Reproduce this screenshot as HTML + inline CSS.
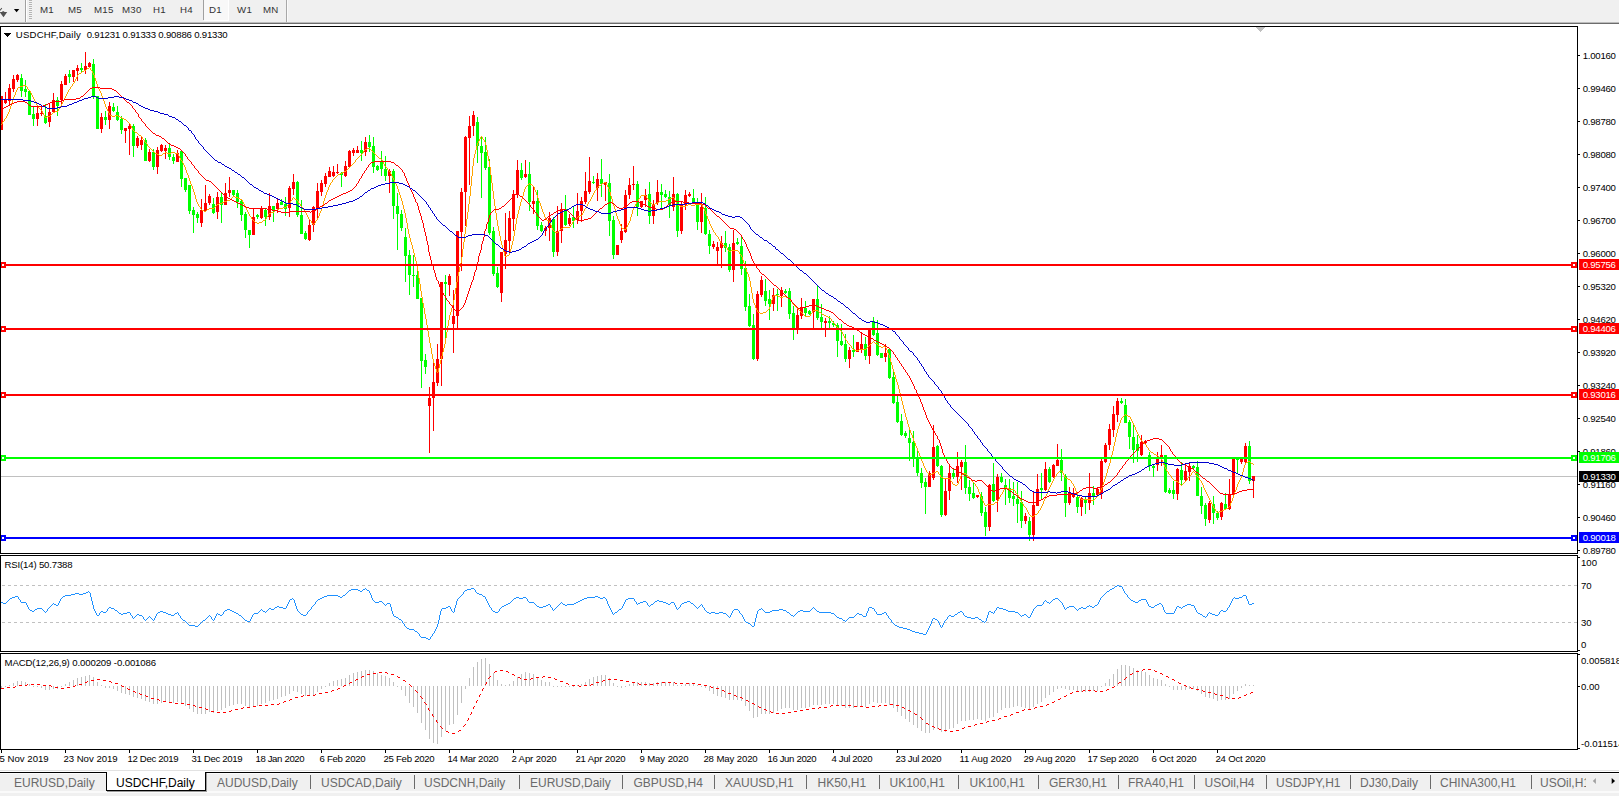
<!DOCTYPE html>
<html><head><meta charset="utf-8"><title>USDCHF,Daily</title>
<style>
html,body{margin:0;padding:0;background:#fff;}
body{width:1619px;height:796px;overflow:hidden;position:relative;font-family:"Liberation Sans",sans-serif;}
#tb{position:absolute;left:0;top:0;width:1619px;height:22px;background:#f0f0f0;}
#tb .b{position:absolute;top:4.2px;font-size:9.7px;letter-spacing:0.25px;color:#333;line-height:12px;white-space:nowrap;}
#tabs{position:absolute;left:0;top:773px;width:1619px;height:23px;background:#f0f0f0;}
#tabs .t{position:absolute;top:2px;font-size:12px;line-height:16px;color:#6a6a6a;white-space:nowrap;}
#tabs .s{position:absolute;top:2px;width:1px;height:14px;background:#6a6a6a;}
svg text{font-family:"Liberation Sans",sans-serif;font-size:9.6px;fill:#000;}
</style></head><body>

<div id="tb">
<svg width="40" height="22" style="position:absolute;left:0;top:0"><path d="M0,12h7.2l-3.7,5.2l-3.5,-4.6z M2.3,11.2h1.9v1.5h-1.9z M0,9.6l1.6,-1.8l0.6,0.8l-2.2,2.4z" fill="#505050"/><path d="M13.9,9h5.4l-2.7,3.3z" fill="#000"/></svg>
<div style="position:absolute;left:25px;top:0;width:1px;height:22px;background:#a0a0a0"></div><div style="position:absolute;left:26px;top:0;width:1px;height:22px;background:#fff"></div>
<div style="position:absolute;left:29px;top:0;width:3px;height:19px;background:repeating-linear-gradient(#b4b4b4 0,#b4b4b4 1px,#f4f4f4 1px,#f4f4f4 2px)"></div>
<div style="position:absolute;left:203px;top:0;width:1px;height:20px;background:#a0a0a0"></div>
<div style="position:absolute;left:204px;top:0;width:24px;height:20px;background:#f8f8f8"></div>
<div style="position:absolute;left:228px;top:0;width:1px;height:21px;background:#fff"></div><div style="position:absolute;left:204px;top:20px;width:25px;height:1px;background:#fff"></div>
<div style="position:absolute;left:286px;top:0;width:1px;height:22px;background:#a8a8a8"></div><div style="position:absolute;left:287px;top:0;width:1px;height:22px;background:#fafafa"></div>
<div class="b" style="left:40px">M1</div>
<div class="b" style="left:68px">M5</div>
<div class="b" style="left:94px">M15</div>
<div class="b" style="left:122px">M30</div>
<div class="b" style="left:153px">H1</div>
<div class="b" style="left:180px">H4</div>
<div class="b" style="left:209px">D1</div>
<div class="b" style="left:237px">W1</div>
<div class="b" style="left:263px">MN</div>
</div>
<div style="position:absolute;left:0;top:22px;width:1619px;height:1px;background:#bcbcbc"></div>
<div style="position:absolute;left:0;top:23px;width:1619px;height:1px;background:#6c6c6c"></div>
<svg width="1619" height="796" viewBox="0 0 1619 796" style="position:absolute;left:0;top:0" shape-rendering="crispEdges">
<defs><clipPath id="cm"><rect x="1" y="27" width="1576" height="526"/></clipPath><clipPath id="cr"><rect x="1" y="556" width="1576" height="95"/></clipPath><clipPath id="cd"><rect x="1" y="654" width="1576" height="95"/></clipPath></defs>
<rect x="1" y="476" width="1576" height="1" fill="#c0c0c0"/>
<g clip-path="url(#cm)">
<path d="M20,78h3v13h-3zM21,74h1v23h-1zM24,89h3v3h-3zM25,80h1v17h-1zM28,91h3v24h-3zM29,91h1v24h-1zM32,114h3v5h-3zM33,107h1v19h-1zM44,116h3v7h-3zM45,104h1v20h-1zM56,100h3v6h-3zM57,97h1v19h-1zM68,74h3v3h-3zM69,70h1v13h-1zM80,68h3v2h-3zM81,63h1v9h-1zM92,64h3v33h-3zM93,59h1v40h-1zM96,96h3v33h-3zM97,96h1v33h-1zM104,117h3v3h-3zM105,111h1v14h-1zM112,107h3v4h-3zM113,103h1v9h-1zM116,112h3v8h-3zM117,106h1v15h-1zM120,119h3v11h-3zM121,116h1v18h-1zM132,126h3v20h-3zM133,124h1v33h-1zM144,140h3v21h-3zM145,138h1v23h-1zM152,152h3v15h-3zM153,149h1v21h-1zM168,148h3v9h-3zM169,144h1v16h-1zM172,157h3v4h-3zM173,154h1v10h-1zM180,151h3v28h-3zM181,150h1v37h-1zM184,178h3v12h-3zM185,178h1v14h-1zM188,185h3v26h-3zM189,185h1v29h-1zM192,210h3v5h-3zM193,207h1v26h-1zM196,214h3v4h-3zM197,212h1v11h-1zM212,204h3v9h-3zM213,198h1v16h-1zM220,197h3v8h-3zM221,193h1v30h-1zM232,190h3v5h-3zM233,190h1v6h-1zM236,193h3v9h-3zM237,190h1v18h-1zM240,201h3v14h-3zM241,199h1v22h-1zM244,214h3v16h-3zM245,212h1v26h-1zM248,230h3v5h-3zM249,230h1v18h-1zM256,215h3v2h-3zM257,214h1v5h-1zM264,210h3v7h-3zM265,208h1v18h-1zM272,206h3v4h-3zM273,206h1v16h-1zM280,202h3v3h-3zM281,199h1v6h-1zM284,204h3v5h-3zM285,197h1v19h-1zM296,182h3v33h-3zM297,181h1v36h-1zM300,215h3v19h-3zM301,200h1v34h-1zM304,233h3v6h-3zM305,231h1v9h-1zM340,173h3v2h-3zM341,172h1v15h-1zM360,150h3v3h-3zM361,141h1v20h-1zM368,142h3v5h-3zM369,135h1v17h-1zM372,146h3v21h-3zM373,137h1v36h-1zM376,166h3v4h-3zM377,165h1v6h-1zM380,161h3v8h-3zM381,151h1v25h-1zM384,169h3v7h-3zM385,156h1v25h-1zM392,171h3v35h-3zM393,169h1v50h-1zM396,206h3v8h-3zM397,193h1v57h-1zM400,214h3v14h-3zM401,210h1v21h-1zM404,237h3v19h-3zM405,228h1v54h-1zM408,255h3v20h-3zM409,250h1v45h-1zM412,275h3v1h-3zM413,255h1v32h-1zM416,275h3v24h-3zM417,270h1v29h-1zM420,298h3v63h-3zM421,298h1v90h-1zM424,360h3v7h-3zM425,354h1v20h-1zM444,282h3v2h-3zM445,275h1v63h-1zM476,122h3v24h-3zM477,117h1v46h-1zM480,146h3v7h-3zM481,136h1v62h-1zM484,152h3v16h-3zM485,137h1v33h-1zM488,167h3v66h-3zM489,159h1v76h-1zM492,231h3v43h-3zM493,227h1v49h-1zM496,273h3v14h-3zM497,267h1v21h-1zM520,170h3v8h-3zM521,163h1v17h-1zM528,174h3v28h-3zM529,162h1v49h-1zM536,201h3v25h-3zM537,190h1v40h-1zM540,225h3v6h-3zM541,222h1v10h-1zM552,219h3v33h-3zM553,217h1v40h-1zM564,209h3v16h-3zM565,195h1v31h-1zM572,217h3v4h-3zM573,206h1v22h-1zM592,182h3v1h-3zM593,176h1v8h-1zM600,179h3v5h-3zM601,159h1v38h-1zM608,183h3v38h-3zM609,174h1v62h-1zM612,220h3v35h-3zM613,216h1v43h-1zM636,184h3v23h-3zM637,181h1v35h-1zM648,194h3v22h-3zM649,182h1v42h-1zM660,192h3v3h-3zM661,184h1v25h-1zM664,194h3v3h-3zM665,190h1v8h-1zM668,197h3v8h-3zM669,191h1v27h-1zM676,194h3v37h-3zM677,193h1v44h-1zM692,198h3v5h-3zM693,189h1v15h-1zM696,202h3v20h-3zM697,198h1v32h-1zM704,208h3v26h-3zM705,197h1v38h-1zM708,234h3v12h-3zM709,230h1v24h-1zM724,243h3v5h-3zM725,231h1v21h-1zM728,247h3v23h-3zM729,244h1v28h-1zM736,242h3v2h-3zM737,238h1v7h-1zM740,246h3v23h-3zM741,236h1v39h-1zM744,268h3v39h-3zM745,261h1v50h-1zM748,306h3v20h-3zM749,294h1v33h-1zM752,325h3v34h-3zM753,314h1v46h-1zM764,291h3v10h-3zM765,279h1v27h-1zM768,299h3v5h-3zM769,290h1v30h-1zM776,294h3v1h-3zM777,289h1v22h-1zM784,291h3v2h-3zM785,289h1v5h-1zM788,291h3v23h-3zM789,288h1v31h-1zM792,313h3v16h-3zM793,306h1v34h-1zM804,308h3v5h-3zM805,301h1v15h-1zM808,311h3v3h-3zM809,310h1v5h-1zM816,299h3v19h-3zM817,286h1v34h-1zM820,317h3v5h-3zM821,304h1v24h-1zM828,321h3v2h-3zM829,316h1v12h-1zM832,323h3v2h-3zM833,321h1v6h-1zM836,325h3v16h-3zM837,323h1v34h-1zM840,341h3v4h-3zM841,324h1v22h-1zM844,344h3v15h-3zM845,334h1v28h-1zM852,350h3v2h-3zM853,335h1v22h-1zM864,344h3v12h-3zM865,337h1v23h-1zM872,321h3v14h-3zM873,317h1v19h-1zM876,333h3v22h-3zM877,320h1v36h-1zM880,353h3v5h-3zM881,353h1v5h-1zM888,349h3v29h-3zM889,348h1v31h-1zM892,377h3v26h-3zM893,372h1v32h-1zM896,402h3v20h-3zM897,396h1v27h-1zM900,421h3v14h-3zM901,414h1v22h-1zM904,433h3v3h-3zM905,431h1v7h-1zM908,438h3v5h-3zM909,430h1v31h-1zM912,442h3v17h-3zM913,431h1v36h-1zM916,458h3v15h-3zM917,448h1v28h-1zM920,473h3v10h-3zM921,468h1v20h-1zM924,482h3v5h-3zM925,478h1v36h-1zM936,446h3v20h-3zM937,445h1v22h-1zM940,466h3v49h-3zM941,465h1v52h-1zM952,473h3v4h-3zM953,468h1v11h-1zM964,462h3v26h-3zM965,445h1v49h-1zM968,487h3v7h-3zM969,480h1v21h-1zM972,493h3v5h-3zM973,482h1v17h-1zM980,496h3v17h-3zM981,492h1v24h-1zM984,512h3v15h-3zM985,507h1v29h-1zM992,484h3v17h-3zM993,463h1v39h-1zM1000,477h3v5h-3zM1001,473h1v10h-1zM1004,485h3v3h-3zM1005,479h1v26h-1zM1008,488h3v10h-3zM1009,479h1v24h-1zM1012,496h3v3h-3zM1013,482h1v24h-1zM1016,499h3v5h-3zM1017,482h1v41h-1zM1020,502h3v19h-3zM1021,491h1v37h-1zM1028,521h3v14h-3zM1029,517h1v24h-1zM1040,488h3v2h-3zM1041,473h1v26h-1zM1048,469h3v13h-3zM1049,467h1v16h-1zM1060,460h3v13h-3zM1061,449h1v32h-1zM1064,476h3v27h-3zM1065,474h1v43h-1zM1076,497h3v10h-3zM1077,493h1v20h-1zM1084,500h3v3h-3zM1085,496h1v18h-1zM1092,493h3v4h-3zM1093,486h1v19h-1zM1120,401h3v2h-3zM1121,398h1v6h-1zM1124,405h3v18h-3zM1125,399h1v24h-1zM1128,422h3v15h-3zM1129,420h1v29h-1zM1132,437h3v13h-3zM1133,424h1v39h-1zM1136,444h3v7h-3zM1137,435h1v27h-1zM1148,455h3v11h-3zM1149,452h1v19h-1zM1152,466h3v2h-3zM1153,464h1v13h-1zM1164,455h3v37h-3zM1165,455h1v38h-1zM1168,490h3v3h-3zM1169,488h1v6h-1zM1172,490h3v4h-3zM1173,481h1v18h-1zM1180,470h3v10h-3zM1181,462h1v24h-1zM1192,466h3v2h-3zM1193,465h1v4h-1zM1196,467h3v29h-3zM1197,461h1v35h-1zM1200,496h3v10h-3zM1201,487h1v27h-1zM1204,505h3v14h-3zM1205,503h1v23h-1zM1212,504h3v9h-3zM1213,496h1v28h-1zM1216,513h3v5h-3zM1217,511h1v9h-1zM1224,504h3v5h-3zM1225,493h1v17h-1zM1236,458h3v2h-3zM1237,458h1v15h-1zM1248,446h3v35h-3zM1249,441h1v43h-1z" fill="#00ff00"/>
<path d="M0,96h3v34h-3zM1,96h1v34h-1zM4,99h3v4h-3zM5,92h1v12h-1zM8,88h3v13h-3zM9,84h1v21h-1zM12,79h3v10h-3zM13,75h1v17h-1zM16,75h3v5h-3zM17,74h1v8h-1zM36,113h3v6h-3zM37,106h1v20h-1zM40,113h3v1h-3zM41,105h1v11h-1zM48,112h3v10h-3zM49,103h1v24h-1zM52,100h3v12h-3zM53,93h1v20h-1zM60,84h3v16h-3zM61,81h1v25h-1zM64,76h3v9h-3zM65,74h1v11h-1zM72,70h3v7h-3zM73,70h1v12h-1zM76,68h3v3h-3zM77,65h1v16h-1zM84,66h3v4h-3zM85,52h1v22h-1zM88,63h3v4h-3zM89,62h1v5h-1zM100,117h3v12h-3zM101,113h1v20h-1zM108,106h3v14h-3zM109,102h1v27h-1zM124,128h3v3h-3zM125,128h1v15h-1zM128,126h3v3h-3zM129,123h1v32h-1zM136,138h3v8h-3zM137,136h1v12h-1zM140,140h3v5h-3zM141,136h1v14h-1zM148,152h3v9h-3zM149,149h1v13h-1zM156,150h3v17h-3zM157,147h1v27h-1zM160,145h3v6h-3zM161,144h1v8h-1zM164,148h3v3h-3zM165,145h1v14h-1zM176,153h3v9h-3zM177,150h1v12h-1zM200,210h3v13h-3zM201,199h1v28h-1zM204,203h3v8h-3zM205,185h1v27h-1zM208,196h3v7h-3zM209,194h1v11h-1zM216,197h3v15h-3zM217,192h1v27h-1zM224,193h3v12h-3zM225,183h1v22h-1zM228,190h3v3h-3zM229,177h1v20h-1zM252,217h3v18h-3zM253,208h1v27h-1zM260,208h3v10h-3zM261,206h1v13h-1zM268,206h3v11h-3zM269,193h1v27h-1zM276,203h3v6h-3zM277,199h1v14h-1zM288,188h3v20h-3zM289,186h1v31h-1zM292,182h3v7h-3zM293,174h1v21h-1zM308,225h3v15h-3zM309,220h1v21h-1zM312,207h3v18h-3zM313,206h1v26h-1zM316,191h3v17h-3zM317,183h1v36h-1zM320,183h3v9h-3zM321,180h1v16h-1zM324,176h3v8h-3zM325,173h1v14h-1zM328,171h3v6h-3zM329,167h1v10h-1zM332,172h3v4h-3zM333,166h1v11h-1zM336,172h3v1h-3zM337,164h1v10h-1zM344,166h3v10h-3zM345,161h1v16h-1zM348,151h3v16h-3zM349,150h1v18h-1zM352,150h3v3h-3zM353,148h1v8h-1zM356,150h3v3h-3zM357,146h1v7h-1zM364,142h3v10h-3zM365,137h1v19h-1zM388,171h3v5h-3zM389,169h1v24h-1zM428,398h3v8h-3zM429,387h1v66h-1zM432,382h3v16h-3zM433,362h1v69h-1zM436,359h3v24h-3zM437,344h1v42h-1zM440,282h3v77h-3zM441,282h1v104h-1zM448,276h3v9h-3zM449,274h1v22h-1zM452,316h3v8h-3zM453,290h1v63h-1zM456,231h3v85h-3zM457,231h1v97h-1zM460,192h3v40h-3zM461,188h1v83h-1zM464,137h3v55h-3zM465,136h1v90h-1zM468,126h3v12h-3zM469,116h1v69h-1zM472,115h3v11h-3zM473,111h1v25h-1zM500,252h3v41h-3zM501,252h1v50h-1zM504,240h3v14h-3zM505,213h1v56h-1zM508,218h3v23h-3zM509,211h1v42h-1zM512,194h3v25h-3zM513,190h1v41h-1zM516,170h3v24h-3zM517,160h1v38h-1zM524,174h3v3h-3zM525,160h1v18h-1zM532,201h3v3h-3zM533,187h1v27h-1zM544,228h3v3h-3zM545,226h1v10h-1zM548,218h3v10h-3zM549,212h1v29h-1zM556,231h3v21h-3zM557,206h1v50h-1zM560,209h3v22h-3zM561,203h1v40h-1zM568,218h3v6h-3zM569,214h1v12h-1zM576,211h3v9h-3zM577,193h1v31h-1zM580,201h3v10h-3zM581,197h1v25h-1zM584,191h3v11h-3zM585,172h1v32h-1zM588,181h3v11h-3zM589,157h1v37h-1zM596,179h3v9h-3zM597,173h1v28h-1zM604,182h3v3h-3zM605,182h1v19h-1zM616,245h3v10h-3zM617,245h1v10h-1zM620,231h3v9h-3zM621,224h1v19h-1zM624,195h3v37h-3zM625,190h1v43h-1zM628,185h3v10h-3zM629,178h1v21h-1zM632,184h3v1h-3zM633,166h1v24h-1zM640,201h3v6h-3zM641,201h1v7h-1zM644,195h3v5h-3zM645,189h1v18h-1zM652,205h3v11h-3zM653,200h1v24h-1zM656,192h3v11h-3zM657,180h1v25h-1zM672,194h3v13h-3zM673,177h1v34h-1zM680,204h3v27h-3zM681,201h1v33h-1zM684,195h3v10h-3zM685,190h1v20h-1zM688,194h3v2h-3zM689,192h1v5h-1zM700,207h3v15h-3zM701,193h1v40h-1zM712,244h3v3h-3zM713,241h1v8h-1zM716,247h3v4h-3zM717,242h1v23h-1zM720,243h3v5h-3zM721,236h1v32h-1zM732,243h3v27h-3zM733,230h1v52h-1zM756,294h3v65h-3zM757,291h1v70h-1zM760,280h3v15h-3zM761,276h1v21h-1zM772,295h3v9h-3zM773,288h1v23h-1zM780,290h3v6h-3zM781,287h1v20h-1zM796,315h3v15h-3zM797,307h1v27h-1zM800,307h3v9h-3zM801,298h1v21h-1zM812,299h3v13h-3zM813,299h1v29h-1zM824,321h3v2h-3zM825,318h1v19h-1zM848,350h3v9h-3zM849,347h1v21h-1zM856,342h3v10h-3zM857,342h1v10h-1zM860,344h3v5h-3zM861,333h1v20h-1zM868,329h3v27h-3zM869,329h1v35h-1zM884,353h3v4h-3zM885,344h1v18h-1zM928,473h3v14h-3zM929,471h1v16h-1zM932,447h3v31h-3zM933,425h1v55h-1zM944,491h3v24h-3zM945,479h1v37h-1zM948,473h3v18h-3zM949,466h1v34h-1zM956,466h3v11h-3zM957,452h1v31h-1zM960,462h3v5h-3zM961,460h1v30h-1zM976,495h3v2h-3zM977,495h1v3h-1zM988,485h3v42h-3zM989,484h1v47h-1zM996,477h3v23h-3zM997,474h1v38h-1zM1024,516h3v5h-3zM1025,513h1v11h-1zM1032,505h3v30h-3zM1033,491h1v50h-1zM1036,489h3v17h-3zM1037,474h1v32h-1zM1044,469h3v21h-3zM1045,462h1v29h-1zM1052,465h3v12h-3zM1053,464h1v14h-1zM1056,460h3v6h-3zM1057,444h1v22h-1zM1068,492h3v11h-3zM1069,487h1v18h-1zM1072,493h3v4h-3zM1073,488h1v10h-1zM1080,498h3v9h-3zM1081,497h1v19h-1zM1088,493h3v10h-3zM1089,473h1v37h-1zM1096,489h3v6h-3zM1097,488h1v8h-1zM1100,461h3v33h-3zM1101,459h1v40h-1zM1104,445h3v17h-3zM1105,443h1v20h-1zM1108,429h3v16h-3zM1109,424h1v26h-1zM1112,414h3v16h-3zM1113,406h1v31h-1zM1116,401h3v14h-3zM1117,398h1v24h-1zM1140,442h3v13h-3zM1141,435h1v21h-1zM1144,441h3v2h-3zM1145,440h1v4h-1zM1156,459h3v6h-3zM1157,452h1v19h-1zM1160,455h3v4h-3zM1161,445h1v21h-1zM1176,469h3v25h-3zM1177,468h1v32h-1zM1184,471h3v9h-3zM1185,464h1v17h-1zM1188,466h3v6h-3zM1189,462h1v19h-1zM1208,503h3v17h-3zM1209,501h1v22h-1zM1220,503h3v14h-3zM1221,502h1v18h-1zM1228,494h3v15h-3zM1229,479h1v31h-1zM1232,459h3v35h-3zM1233,459h1v37h-1zM1240,458h3v4h-3zM1241,458h1v6h-1zM1244,446h3v16h-3zM1245,443h1v20h-1zM1252,476h3v5h-3zM1253,476h1v22h-1z" fill="#ff0000"/>
<path d="M2,122h1v2h-1zM4,119h1v2h-1zM6,116h1v2h-1zM7,114h1v2h-1zM8,112h1v2h-1zM9,109h1v3h-1zM10,106h1v3h-1zM11,103h1v3h-1zM12,100h1v3h-1zM13,97h1v3h-1zM14,95h1v2h-1zM15,92h1v3h-1zM16,90h1v2h-1zM17,88h1v2h-1zM27,87h1v2h-1zM30,91h1v2h-1zM31,93h1v2h-1zM32,95h1v2h-1zM33,97h1v2h-1zM34,99h1v2h-1zM35,101h1v2h-1zM36,103h1v2h-1zM37,105h1v2h-1zM42,111h1v2h-1zM43,113h1v2h-1zM44,115h1v2h-1zM58,109h1v2h-1zM60,106h1v2h-1zM61,104h1v2h-1zM62,102h1v2h-1zM63,100h1v2h-1zM64,98h1v2h-1zM65,96h1v2h-1zM66,94h1v2h-1zM67,92h1v2h-1zM68,90h1v2h-1zM70,87h1v2h-1zM72,84h1v2h-1zM74,81h1v2h-1zM75,79h1v2h-1zM76,77h1v2h-1zM77,75h1v2h-1zM90,68h1v2h-1zM92,71h1v2h-1zM93,73h1v2h-1zM94,75h1v3h-1zM95,78h1v3h-1zM96,81h1v3h-1zM97,84h1v3h-1zM98,87h1v2h-1zM99,89h1v2h-1zM100,91h1v2h-1zM101,93h1v3h-1zM102,96h1v3h-1zM103,99h1v2h-1zM104,101h1v3h-1zM105,104h1v3h-1zM106,107h1v2h-1zM107,109h1v2h-1zM108,111h1v2h-1zM109,113h1v2h-1zM130,124h1v2h-1zM131,126h1v2h-1zM132,128h1v2h-1zM142,137h1v2h-1zM144,140h1v2h-1zM147,144h1v2h-1zM178,154h1v2h-1zM179,156h1v2h-1zM180,158h1v2h-1zM182,161h1v2h-1zM183,163h1v2h-1zM184,165h1v2h-1zM185,167h1v3h-1zM186,170h1v3h-1zM187,173h1v2h-1zM188,175h1v3h-1zM189,178h1v3h-1zM190,181h1v3h-1zM191,184h1v2h-1zM192,186h1v3h-1zM193,189h1v3h-1zM194,192h1v3h-1zM195,195h1v4h-1zM196,199h1v3h-1zM197,202h1v2h-1zM198,204h1v2h-1zM200,207h1v2h-1zM242,200h1v2h-1zM243,202h1v2h-1zM244,204h1v2h-1zM245,206h1v2h-1zM246,208h1v2h-1zM247,210h1v2h-1zM248,212h1v2h-1zM249,214h1v2h-1zM251,217h1v2h-1zM266,217h1v2h-1zM268,214h1v2h-1zM290,201h1v2h-1zM292,198h1v2h-1zM298,201h1v2h-1zM300,204h1v2h-1zM302,207h1v2h-1zM304,210h1v2h-1zM306,213h1v2h-1zM307,215h1v2h-1zM308,217h1v2h-1zM311,221h1v2h-1zM315,221h1v2h-1zM317,218h1v2h-1zM318,216h1v2h-1zM319,213h1v3h-1zM320,211h1v2h-1zM321,208h1v3h-1zM322,205h1v3h-1zM323,201h1v4h-1zM324,198h1v3h-1zM325,195h1v3h-1zM326,192h1v3h-1zM327,190h1v2h-1zM328,187h1v3h-1zM329,185h1v2h-1zM330,183h1v2h-1zM332,180h1v2h-1zM355,160h1v2h-1zM363,151h1v2h-1zM382,160h1v2h-1zM383,162h1v2h-1zM384,164h1v2h-1zM387,168h1v2h-1zM390,172h1v2h-1zM391,174h1v2h-1zM392,176h1v2h-1zM393,178h1v2h-1zM394,180h1v2h-1zM395,182h1v2h-1zM396,184h1v2h-1zM397,186h1v3h-1zM398,189h1v3h-1zM399,192h1v3h-1zM400,195h1v3h-1zM401,198h1v3h-1zM402,201h1v4h-1zM403,205h1v4h-1zM404,209h1v4h-1zM405,213h1v5h-1zM406,218h1v5h-1zM407,223h1v6h-1zM408,229h1v5h-1zM409,234h1v4h-1zM410,238h1v4h-1zM411,242h1v3h-1zM412,245h1v4h-1zM413,249h1v4h-1zM414,253h1v4h-1zM415,257h1v4h-1zM416,261h1v4h-1zM417,265h1v6h-1zM418,271h1v7h-1zM419,278h1v6h-1zM420,284h1v7h-1zM421,291h1v6h-1zM422,297h1v6h-1zM423,303h1v5h-1zM424,308h1v6h-1zM425,314h1v5h-1zM426,319h1v6h-1zM427,325h1v6h-1zM428,331h1v6h-1zM429,337h1v6h-1zM430,343h1v5h-1zM431,348h1v6h-1zM432,354h1v5h-1zM433,359h1v4h-1zM434,363h1v3h-1zM435,366h1v3h-1zM436,369h1v3h-1zM438,368h1v4h-1zM439,364h1v4h-1zM440,360h1v4h-1zM441,356h1v4h-1zM442,352h1v4h-1zM443,348h1v4h-1zM444,344h1v4h-1zM445,338h1v6h-1zM446,332h1v6h-1zM447,326h1v6h-1zM448,320h1v6h-1zM449,315h1v5h-1zM450,312h1v3h-1zM451,308h1v4h-1zM452,305h1v3h-1zM453,300h1v5h-1zM454,294h1v6h-1zM455,288h1v6h-1zM456,282h1v6h-1zM457,276h1v6h-1zM458,272h1v4h-1zM459,267h1v5h-1zM460,263h1v4h-1zM461,257h1v6h-1zM462,249h1v8h-1zM463,242h1v7h-1zM464,234h1v8h-1zM465,227h1v7h-1zM466,219h1v8h-1zM467,212h1v7h-1zM468,204h1v8h-1zM469,196h1v8h-1zM470,186h1v10h-1zM471,176h1v10h-1zM472,166h1v10h-1zM473,158h1v8h-1zM474,154h1v4h-1zM475,150h1v4h-1zM476,146h1v4h-1zM477,143h1v3h-1zM478,141h1v2h-1zM479,139h1v2h-1zM480,137h1v2h-1zM482,137h1v2h-1zM484,140h1v2h-1zM485,142h1v3h-1zM486,145h1v5h-1zM487,150h1v6h-1zM488,156h1v5h-1zM489,161h1v6h-1zM490,167h1v8h-1zM491,175h1v8h-1zM492,183h1v8h-1zM493,191h1v8h-1zM494,199h1v7h-1zM495,206h1v7h-1zM496,213h1v7h-1zM497,220h1v6h-1zM498,226h1v5h-1zM499,231h1v5h-1zM500,236h1v5h-1zM501,241h1v4h-1zM502,245h1v4h-1zM503,249h1v3h-1zM504,252h1v4h-1zM509,253h1v2h-1zM510,249h1v4h-1zM511,245h1v4h-1zM512,241h1v4h-1zM513,236h1v5h-1zM514,230h1v6h-1zM515,224h1v6h-1zM516,218h1v6h-1zM517,214h1v4h-1zM518,210h1v4h-1zM519,206h1v4h-1zM520,202h1v4h-1zM521,199h1v3h-1zM522,196h1v3h-1zM523,192h1v4h-1zM524,189h1v3h-1zM525,187h1v2h-1zM534,187h1v3h-1zM535,190h1v2h-1zM536,192h1v3h-1zM537,195h1v3h-1zM538,198h1v3h-1zM539,201h1v2h-1zM540,203h1v3h-1zM541,206h1v3h-1zM542,209h1v3h-1zM543,212h1v2h-1zM544,214h1v3h-1zM545,217h1v2h-1zM549,221h1v2h-1zM550,223h1v2h-1zM551,225h1v3h-1zM552,228h1v2h-1zM570,225h1v2h-1zM572,222h1v2h-1zM582,213h1v2h-1zM583,211h1v2h-1zM584,209h1v2h-1zM586,206h1v2h-1zM587,204h1v2h-1zM588,202h1v2h-1zM590,199h1v2h-1zM591,197h1v2h-1zM592,195h1v2h-1zM593,193h1v2h-1zM594,191h1v2h-1zM596,188h1v2h-1zM606,183h1v2h-1zM607,185h1v2h-1zM608,187h1v2h-1zM609,189h1v3h-1zM610,192h1v4h-1zM611,196h1v3h-1zM612,199h1v4h-1zM613,203h1v3h-1zM614,206h1v3h-1zM615,209h1v4h-1zM616,213h1v3h-1zM617,216h1v3h-1zM618,219h1v2h-1zM619,221h1v3h-1zM620,224h1v2h-1zM621,226h1v2h-1zM626,227h1v2h-1zM627,225h1v2h-1zM628,223h1v2h-1zM629,221h1v2h-1zM630,217h1v4h-1zM631,214h1v3h-1zM632,210h1v4h-1zM633,208h1v2h-1zM634,206h1v2h-1zM635,204h1v2h-1zM636,202h1v2h-1zM638,199h1v2h-1zM640,196h1v2h-1zM646,196h1v2h-1zM648,199h1v2h-1zM674,198h1v2h-1zM675,200h1v2h-1zM676,202h1v2h-1zM702,205h1v2h-1zM703,207h1v2h-1zM704,209h1v2h-1zM705,211h1v3h-1zM706,214h1v2h-1zM707,216h1v3h-1zM708,219h1v2h-1zM709,221h1v3h-1zM710,224h1v2h-1zM711,226h1v2h-1zM712,228h1v2h-1zM713,230h1v2h-1zM715,233h1v2h-1zM718,237h1v2h-1zM719,239h1v2h-1zM720,241h1v2h-1zM727,248h1v2h-1zM739,252h1v2h-1zM741,255h1v2h-1zM742,257h1v3h-1zM743,260h1v3h-1zM744,263h1v3h-1zM745,266h1v3h-1zM746,269h1v3h-1zM747,272h1v2h-1zM748,274h1v3h-1zM749,277h1v4h-1zM750,281h1v6h-1zM751,287h1v6h-1zM752,293h1v6h-1zM753,299h1v4h-1zM754,303h1v2h-1zM755,305h1v3h-1zM756,308h1v2h-1zM757,310h1v2h-1zM769,307h1v2h-1zM770,304h1v3h-1zM771,300h1v4h-1zM772,297h1v3h-1zM790,299h1v2h-1zM792,302h1v2h-1zM810,314h1v2h-1zM812,311h1v2h-1zM831,319h1v2h-1zM835,324h1v2h-1zM842,332h1v2h-1zM843,334h1v2h-1zM844,336h1v2h-1zM845,338h1v2h-1zM847,341h1v2h-1zM851,346h1v2h-1zM886,348h1v2h-1zM887,350h1v3h-1zM888,353h1v2h-1zM889,355h1v3h-1zM890,358h1v4h-1zM891,362h1v3h-1zM892,365h1v4h-1zM893,369h1v3h-1zM894,372h1v3h-1zM895,375h1v4h-1zM896,379h1v3h-1zM897,382h1v3h-1zM898,385h1v4h-1zM899,389h1v4h-1zM900,393h1v4h-1zM901,397h1v4h-1zM902,401h1v4h-1zM903,405h1v4h-1zM904,409h1v4h-1zM905,413h1v4h-1zM906,417h1v3h-1zM907,420h1v4h-1zM908,424h1v3h-1zM909,427h1v3h-1zM910,430h1v3h-1zM911,433h1v2h-1zM912,435h1v3h-1zM913,438h1v3h-1zM914,441h1v2h-1zM915,443h1v3h-1zM916,446h1v2h-1zM917,448h1v3h-1zM918,451h1v2h-1zM919,453h1v3h-1zM920,456h1v2h-1zM921,458h1v3h-1zM922,461h1v2h-1zM923,463h1v3h-1zM924,466h1v2h-1zM925,468h1v2h-1zM926,470h1v2h-1zM928,473h1v2h-1zM938,472h1v2h-1zM940,475h1v2h-1zM950,479h1v2h-1zM952,482h1v2h-1zM958,481h1v3h-1zM959,479h1v2h-1zM960,476h1v3h-1zM971,479h1v2h-1zM975,484h1v2h-1zM977,487h1v2h-1zM978,489h1v3h-1zM979,492h1v2h-1zM980,494h1v3h-1zM981,497h1v2h-1zM982,499h1v2h-1zM983,501h1v2h-1zM984,503h1v2h-1zM998,499h1v2h-1zM999,497h1v2h-1zM1000,495h1v2h-1zM1002,492h1v2h-1zM1003,490h1v2h-1zM1004,488h1v2h-1zM1015,491h1v2h-1zM1018,495h1v2h-1zM1019,497h1v2h-1zM1020,499h1v2h-1zM1021,501h1v2h-1zM1023,504h1v2h-1zM1026,508h1v2h-1zM1027,510h1v2h-1zM1028,512h1v2h-1zM1038,511h1v2h-1zM1040,508h1v2h-1zM1041,506h1v2h-1zM1042,504h1v2h-1zM1043,501h1v3h-1zM1044,499h1v2h-1zM1045,496h1v3h-1zM1046,494h1v2h-1zM1047,491h1v3h-1zM1048,489h1v2h-1zM1049,487h1v2h-1zM1050,485h1v2h-1zM1051,483h1v2h-1zM1052,481h1v2h-1zM1053,479h1v2h-1zM1054,477h1v2h-1zM1056,474h1v2h-1zM1062,471h1v2h-1zM1063,473h1v2h-1zM1064,475h1v2h-1zM1071,481h1v2h-1zM1073,484h1v2h-1zM1074,486h1v2h-1zM1075,488h1v3h-1zM1076,491h1v2h-1zM1077,493h1v2h-1zM1079,496h1v2h-1zM1098,494h1v2h-1zM1099,492h1v2h-1zM1100,490h1v2h-1zM1101,488h1v2h-1zM1102,485h1v3h-1zM1103,482h1v3h-1zM1104,479h1v3h-1zM1105,476h1v3h-1zM1106,473h1v3h-1zM1107,469h1v4h-1zM1108,466h1v3h-1zM1109,463h1v3h-1zM1110,459h1v4h-1zM1111,455h1v4h-1zM1112,451h1v4h-1zM1113,446h1v5h-1zM1114,442h1v4h-1zM1115,437h1v5h-1zM1116,433h1v4h-1zM1117,429h1v4h-1zM1118,426h1v3h-1zM1119,423h1v3h-1zM1120,420h1v3h-1zM1121,418h1v2h-1zM1130,417h1v2h-1zM1131,419h1v2h-1zM1132,421h1v2h-1zM1133,423h1v2h-1zM1134,425h1v2h-1zM1135,427h1v3h-1zM1136,430h1v2h-1zM1137,432h1v2h-1zM1138,434h1v2h-1zM1139,436h1v2h-1zM1140,438h1v2h-1zM1146,445h1v2h-1zM1148,448h1v2h-1zM1161,458h1v2h-1zM1162,460h1v2h-1zM1163,462h1v3h-1zM1164,465h1v2h-1zM1165,467h1v2h-1zM1166,469h1v2h-1zM1168,472h1v2h-1zM1171,476h1v2h-1zM1187,478h1v2h-1zM1191,473h1v2h-1zM1195,473h1v2h-1zM1199,478h1v2h-1zM1201,481h1v2h-1zM1202,483h1v2h-1zM1203,485h1v3h-1zM1204,488h1v2h-1zM1205,490h1v2h-1zM1206,492h1v2h-1zM1207,494h1v2h-1zM1208,496h1v2h-1zM1209,498h1v2h-1zM1210,500h1v2h-1zM1211,502h1v2h-1zM1212,504h1v2h-1zM1213,506h1v2h-1zM1215,509h1v2h-1zM1230,503h1v3h-1zM1231,501h1v2h-1zM1232,498h1v3h-1zM1233,495h1v3h-1zM1234,492h1v3h-1zM1235,490h1v2h-1zM1236,487h1v3h-1zM1237,484h1v3h-1zM1238,482h1v2h-1zM1239,480h1v2h-1zM1240,478h1v2h-1zM1241,475h1v3h-1zM1242,472h1v3h-1zM1243,468h1v4h-1zM1244,465h1v3h-1zM1245,463h1v2h-1zM89,67h1v1h-1zM87,68h2v1h-2zM86,69h1v1h-1zM84,70h2v1h-2zM91,70h1v1h-1zM82,71h2v1h-2zM81,72h1v1h-1zM79,73h2v1h-2zM78,74h1v1h-1zM73,83h1v1h-1zM23,85h3v1h-3zM20,86h3v1h-3zM26,86h1v1h-1zM71,86h1v1h-1zM18,87h2v1h-2zM28,89h1v1h-1zM69,89h1v1h-1zM29,90h1v1h-1zM38,107h1v1h-1zM39,108h1v1h-1zM59,108h1v1h-1zM40,109h1v1h-1zM41,110h1v1h-1zM55,111h3v1h-3zM53,112h2v1h-2zM52,113h1v1h-1zM51,114h1v1h-1zM50,115h1v1h-1zM110,115h2v1h-2zM115,115h3v1h-3zM47,116h3v1h-3zM112,116h3v1h-3zM118,116h2v1h-2zM45,117h2v1h-2zM120,117h2v1h-2zM5,118h1v1h-1zM122,118h2v1h-2zM124,119h2v1h-2zM126,120h1v1h-1zM3,121h1v1h-1zM127,121h1v1h-1zM128,122h1v1h-1zM129,123h1v1h-1zM1,124h1v1h-1zM133,130h1v1h-1zM134,131h1v1h-1zM135,132h2v1h-2zM137,133h1v1h-1zM138,134h1v1h-1zM139,135h2v1h-2zM141,136h1v1h-1zM481,136h1v1h-1zM143,139h1v1h-1zM483,139h1v1h-1zM145,142h1v1h-1zM146,143h1v1h-1zM148,146h1v1h-1zM149,147h1v1h-1zM150,148h1v1h-1zM367,148h3v1h-3zM151,149h1v1h-1zM365,149h2v1h-2zM370,149h1v1h-1zM152,150h1v1h-1zM364,150h1v1h-1zM371,150h1v1h-1zM153,151h1v1h-1zM372,151h1v1h-1zM154,152h1v1h-1zM165,152h2v1h-2zM171,152h4v1h-4zM373,152h1v1h-1zM155,153h2v1h-2zM163,153h2v1h-2zM167,153h4v1h-4zM175,153h3v1h-3zM362,153h1v1h-1zM374,153h1v1h-1zM157,154h2v1h-2zM162,154h1v1h-1zM361,154h1v1h-1zM375,154h1v1h-1zM159,155h3v1h-3zM360,155h1v1h-1zM376,155h1v1h-1zM359,156h1v1h-1zM377,156h1v1h-1zM358,157h1v1h-1zM378,157h1v1h-1zM357,158h1v1h-1zM379,158h2v1h-2zM356,159h1v1h-1zM381,159h1v1h-1zM181,160h1v1h-1zM354,162h1v1h-1zM353,163h1v1h-1zM352,164h1v1h-1zM351,165h1v1h-1zM350,166h1v1h-1zM385,166h1v1h-1zM349,167h1v1h-1zM386,167h1v1h-1zM348,168h1v1h-1zM347,169h1v1h-1zM346,170h1v1h-1zM388,170h1v1h-1zM344,171h2v1h-2zM389,171h1v1h-1zM342,172h2v1h-2zM340,173h2v1h-2zM338,174h2v1h-2zM337,175h1v1h-1zM336,176h1v1h-1zM335,177h1v1h-1zM334,178h1v1h-1zM333,179h1v1h-1zM331,182h1v1h-1zM604,182h2v1h-2zM529,183h1v1h-1zM602,183h2v1h-2zM528,184h1v1h-1zM530,184h2v1h-2zM601,184h1v1h-1zM527,185h1v1h-1zM532,185h1v1h-1zM599,185h2v1h-2zM526,186h1v1h-1zM533,186h1v1h-1zM598,186h1v1h-1zM597,187h1v1h-1zM595,190h1v1h-1zM641,195h5v1h-5zM233,196h2v1h-2zM232,197h1v1h-1zM235,197h3v1h-3zM293,197h1v1h-1zM672,197h2v1h-2zM231,198h1v1h-1zM238,198h2v1h-2zM294,198h1v1h-1zM639,198h1v1h-1zM647,198h1v1h-1zM670,198h2v1h-2zM230,199h1v1h-1zM240,199h2v1h-2zM295,199h2v1h-2zM668,199h2v1h-2zM227,200h3v1h-3zM291,200h1v1h-1zM297,200h1v1h-1zM666,200h2v1h-2zM224,201h3v1h-3zM589,201h1v1h-1zM637,201h1v1h-1zM649,201h1v1h-1zM659,201h7v1h-7zM222,202h2v1h-2zM650,202h1v1h-1zM657,202h2v1h-2zM219,203h3v1h-3zM289,203h1v1h-1zM299,203h1v1h-1zM651,203h1v1h-1zM655,203h2v1h-2zM217,204h2v1h-2zM288,204h1v1h-1zM652,204h1v1h-1zM654,204h1v1h-1zM677,204h1v1h-1zM688,204h3v1h-3zM695,204h7v1h-7zM216,205h1v1h-1zM287,205h1v1h-1zM653,205h1v1h-1zM678,205h2v1h-2zM686,205h2v1h-2zM691,205h4v1h-4zM199,206h1v1h-1zM215,206h1v1h-1zM286,206h1v1h-1zM301,206h1v1h-1zM680,206h6v1h-6zM214,207h1v1h-1zM283,207h3v1h-3zM209,208h5v1h-5zM279,208h4v1h-4zM585,208h1v1h-1zM201,209h1v1h-1zM207,209h2v1h-2zM277,209h2v1h-2zM303,209h1v1h-1zM202,210h2v1h-2zM206,210h1v1h-1zM275,210h2v1h-2zM204,211h2v1h-2zM274,211h1v1h-1zM271,212h3v1h-3zM305,212h1v1h-1zM269,213h2v1h-2zM580,215h2v1h-2zM250,216h1v1h-1zM267,216h1v1h-1zM578,216h2v1h-2zM577,217h1v1h-1zM576,218h1v1h-1zM252,219h1v1h-1zM265,219h1v1h-1zM309,219h1v1h-1zM546,219h1v1h-1zM575,219h1v1h-1zM253,220h1v1h-1zM263,220h2v1h-2zM310,220h1v1h-1zM316,220h1v1h-1zM547,220h2v1h-2zM574,220h1v1h-1zM254,221h1v1h-1zM262,221h1v1h-1zM573,221h1v1h-1zM255,222h2v1h-2zM259,222h3v1h-3zM257,223h2v1h-2zM312,223h1v1h-1zM314,223h1v1h-1zM313,224h1v1h-1zM571,224h1v1h-1zM563,227h7v1h-7zM561,228h2v1h-2zM622,228h2v1h-2zM560,229h1v1h-1zM624,229h2v1h-2zM553,230h1v1h-1zM559,230h1v1h-1zM554,231h1v1h-1zM558,231h1v1h-1zM555,232h3v1h-3zM714,232h1v1h-1zM716,235h1v1h-1zM717,236h1v1h-1zM721,243h1v1h-1zM722,244h1v1h-1zM723,245h2v1h-2zM725,246h1v1h-1zM726,247h1v1h-1zM728,250h1v1h-1zM731,250h7v1h-7zM729,251h2v1h-2zM738,251h1v1h-1zM740,254h1v1h-1zM507,255h2v1h-2zM505,256h2v1h-2zM774,295h4v1h-4zM773,296h1v1h-1zM778,296h2v1h-2zM783,296h3v1h-3zM780,297h3v1h-3zM786,297h2v1h-2zM788,298h2v1h-2zM791,301h1v1h-1zM793,304h1v1h-1zM794,305h1v1h-1zM795,306h1v1h-1zM796,307h1v1h-1zM797,308h1v1h-1zM768,309h1v1h-1zM798,309h1v1h-1zM767,310h1v1h-1zM799,310h1v1h-1zM813,310h5v1h-5zM766,311h1v1h-1zM800,311h1v1h-1zM818,311h1v1h-1zM758,312h2v1h-2zM763,312h3v1h-3zM801,312h1v1h-1zM819,312h2v1h-2zM760,313h3v1h-3zM802,313h1v1h-1zM811,313h1v1h-1zM821,313h1v1h-1zM803,314h1v1h-1zM822,314h2v1h-2zM804,315h1v1h-1zM824,315h2v1h-2zM805,316h5v1h-5zM826,316h2v1h-2zM828,317h2v1h-2zM830,318h1v1h-1zM832,321h1v1h-1zM833,322h1v1h-1zM834,323h1v1h-1zM836,326h1v1h-1zM837,327h1v1h-1zM838,328h1v1h-1zM839,329h1v1h-1zM840,330h1v1h-1zM841,331h1v1h-1zM846,340h1v1h-1zM873,341h1v1h-1zM872,342h1v1h-1zM874,342h1v1h-1zM848,343h1v1h-1zM871,343h1v1h-1zM875,343h2v1h-2zM849,344h1v1h-1zM870,344h1v1h-1zM877,344h1v1h-1zM850,345h1v1h-1zM869,345h1v1h-1zM878,345h1v1h-1zM868,346h1v1h-1zM879,346h2v1h-2zM883,346h2v1h-2zM867,347h1v1h-1zM881,347h2v1h-2zM885,347h1v1h-1zM852,348h1v1h-1zM866,348h1v1h-1zM853,349h2v1h-2zM859,349h7v1h-7zM855,350h4v1h-4zM437,372h1v1h-1zM1125,414h1v1h-1zM1124,415h1v1h-1zM1126,415h2v1h-2zM1123,416h1v1h-1zM1128,416h2v1h-2zM1122,417h1v1h-1zM1141,440h1v1h-1zM1142,441h1v1h-1zM1143,442h1v1h-1zM1144,443h1v1h-1zM1145,444h1v1h-1zM1147,447h1v1h-1zM1149,450h1v1h-1zM1150,451h1v1h-1zM1151,452h2v1h-2zM1153,453h1v1h-1zM1154,454h2v1h-2zM1156,455h2v1h-2zM1158,456h1v1h-1zM1159,457h2v1h-2zM1248,461h2v1h-2zM1246,462h2v1h-2zM1250,462h1v1h-1zM1251,463h2v1h-2zM1253,464h1v1h-1zM1061,470h1v1h-1zM936,471h2v1h-2zM1059,471h2v1h-2zM1167,471h1v1h-1zM1193,471h1v1h-1zM927,472h1v1h-1zM934,472h2v1h-2zM1058,472h1v1h-1zM1192,472h1v1h-1zM1194,472h1v1h-1zM932,473h2v1h-2zM963,473h3v1h-3zM1057,473h1v1h-1zM930,474h2v1h-2zM939,474h1v1h-1zM962,474h1v1h-1zM966,474h1v1h-1zM1169,474h1v1h-1zM929,475h1v1h-1zM961,475h1v1h-1zM967,475h1v1h-1zM1170,475h1v1h-1zM1190,475h1v1h-1zM1196,475h1v1h-1zM968,476h1v1h-1zM1055,476h1v1h-1zM1189,476h1v1h-1zM1197,476h1v1h-1zM941,477h2v1h-2zM969,477h1v1h-1zM1065,477h1v1h-1zM1188,477h1v1h-1zM1198,477h1v1h-1zM943,478h7v1h-7zM970,478h1v1h-1zM1066,478h2v1h-2zM1172,478h1v1h-1zM1068,479h2v1h-2zM1173,479h1v1h-1zM1070,480h1v1h-1zM1174,480h2v1h-2zM1186,480h1v1h-1zM1200,480h1v1h-1zM951,481h1v1h-1zM972,481h1v1h-1zM1176,481h2v1h-2zM1185,481h1v1h-1zM973,482h1v1h-1zM1178,482h1v1h-1zM1184,482h1v1h-1zM974,483h1v1h-1zM1072,483h1v1h-1zM1179,483h1v1h-1zM1183,483h1v1h-1zM953,484h2v1h-2zM957,484h1v1h-1zM1180,484h1v1h-1zM1182,484h1v1h-1zM955,485h2v1h-2zM1181,485h1v1h-1zM976,486h1v1h-1zM1005,487h2v1h-2zM1007,488h2v1h-2zM1009,489h5v1h-5zM1014,490h1v1h-1zM1016,493h1v1h-1zM1001,494h1v1h-1zM1017,494h1v1h-1zM1078,495h1v1h-1zM1097,496h1v1h-1zM1096,497h1v1h-1zM1080,498h1v1h-1zM1095,498h1v1h-1zM1081,499h10v1h-10zM1094,499h1v1h-1zM1091,500h3v1h-3zM997,501h1v1h-1zM995,502h2v1h-2zM994,503h1v1h-1zM1022,503h1v1h-1zM987,504h7v1h-7zM985,505h2v1h-2zM1024,506h1v1h-1zM1229,506h1v1h-1zM1025,507h1v1h-1zM1228,507h1v1h-1zM1214,508h1v1h-1zM1226,508h2v1h-2zM1224,509h2v1h-2zM1039,510h1v1h-1zM1222,510h2v1h-2zM1216,511h1v1h-1zM1219,511h3v1h-3zM1217,512h2v1h-2zM1037,513h1v1h-1zM1029,514h1v1h-1zM1035,514h2v1h-2zM1030,515h1v1h-1zM1034,515h1v1h-1zM1031,516h3v1h-3z" fill="#ffa500"/><path d="M132,106h1v2h-1zM135,110h1v2h-1zM138,114h1v3h-1zM141,119h1v2h-1zM145,124h1v2h-1zM185,154h1v2h-1zM187,157h1v2h-1zM191,162h1v2h-1zM194,166h1v2h-1zM198,171h1v2h-1zM356,184h1v2h-1zM358,181h1v2h-1zM359,179h1v2h-1zM361,176h1v2h-1zM362,174h1v2h-1zM364,171h1v2h-1zM366,168h1v2h-1zM368,165h1v2h-1zM402,170h1v2h-1zM404,173h1v3h-1zM405,176h1v2h-1zM406,178h1v3h-1zM407,181h1v2h-1zM408,183h1v2h-1zM409,185h1v3h-1zM410,188h1v2h-1zM411,190h1v2h-1zM412,192h1v2h-1zM413,194h1v3h-1zM414,197h1v2h-1zM415,199h1v3h-1zM417,203h1v3h-1zM418,206h1v4h-1zM419,210h1v3h-1zM420,213h1v3h-1zM421,216h1v4h-1zM422,220h1v3h-1zM423,223h1v5h-1zM424,228h1v4h-1zM425,232h1v4h-1zM426,236h1v5h-1zM427,241h1v4h-1zM428,245h1v7h-1zM429,252h1v4h-1zM430,256h1v4h-1zM431,260h1v4h-1zM432,264h1v2h-1zM433,266h1v4h-1zM434,270h1v3h-1zM435,273h1v4h-1zM436,277h1v3h-1zM438,281h1v3h-1zM439,284h1v3h-1zM440,287h1v2h-1zM441,289h1v2h-1zM442,291h1v2h-1zM443,293h1v2h-1zM445,296h1v2h-1zM446,298h1v2h-1zM449,302h1v2h-1zM452,306h1v2h-1zM463,305h1v2h-1zM464,303h1v2h-1zM465,300h1v3h-1zM466,297h1v3h-1zM467,294h1v3h-1zM468,291h1v3h-1zM469,288h1v3h-1zM470,285h1v3h-1zM471,282h1v3h-1zM472,280h1v2h-1zM473,276h1v4h-1zM474,272h1v4h-1zM475,270h1v2h-1zM476,265h1v5h-1zM477,262h1v3h-1zM478,256h1v6h-1zM479,253h1v3h-1zM480,250h1v3h-1zM481,244h1v6h-1zM482,241h1v3h-1zM483,237h1v4h-1zM484,231h1v6h-1zM485,229h1v2h-1zM486,224h1v5h-1zM487,222h1v2h-1zM488,218h1v4h-1zM489,215h1v3h-1zM490,213h1v2h-1zM512,196h1v2h-1zM530,205h1v2h-1zM534,210h1v2h-1zM537,214h1v2h-1zM741,235h1v2h-1zM742,237h1v2h-1zM744,240h1v2h-1zM745,242h1v2h-1zM746,244h1v3h-1zM747,247h1v2h-1zM748,249h1v2h-1zM749,251h1v2h-1zM750,253h1v3h-1zM751,256h1v3h-1zM752,259h1v2h-1zM753,261h1v2h-1zM754,263h1v2h-1zM756,266h1v2h-1zM759,270h1v2h-1zM791,300h1v2h-1zM893,352h1v2h-1zM895,355h1v2h-1zM897,358h1v2h-1zM899,361h1v2h-1zM901,364h1v2h-1zM903,367h1v2h-1zM905,370h1v2h-1zM907,373h1v2h-1zM909,376h1v2h-1zM910,378h1v2h-1zM911,380h1v2h-1zM912,382h1v2h-1zM913,384h1v2h-1zM914,386h1v3h-1zM916,390h1v3h-1zM917,393h1v2h-1zM918,395h1v2h-1zM919,397h1v2h-1zM920,399h1v3h-1zM921,402h1v2h-1zM922,404h1v3h-1zM923,407h1v3h-1zM924,410h1v2h-1zM925,412h1v3h-1zM926,415h1v3h-1zM927,418h1v2h-1zM928,420h1v2h-1zM929,422h1v2h-1zM930,424h1v2h-1zM931,426h1v2h-1zM932,428h1v2h-1zM934,431h1v2h-1zM935,433h1v2h-1zM937,436h1v3h-1zM939,440h1v3h-1zM940,443h1v3h-1zM941,446h1v3h-1zM942,449h1v4h-1zM943,453h1v2h-1zM944,455h1v2h-1zM945,457h1v2h-1zM946,459h1v2h-1zM947,461h1v2h-1zM949,464h1v2h-1zM1117,473h1v2h-1zM1119,470h1v2h-1zM1122,466h1v2h-1zM1125,462h1v2h-1zM1130,456h1v2h-1zM1169,447h1v2h-1zM1170,449h1v2h-1zM1172,452h1v2h-1zM1175,456h1v2h-1zM92,87h8v1h-8zM90,88h2v1h-2zM100,88h12v1h-12zM89,89h1v1h-1zM112,89h2v1h-2zM88,90h1v1h-1zM114,90h2v1h-2zM87,91h1v1h-1zM116,91h1v1h-1zM86,92h1v1h-1zM117,92h1v1h-1zM85,93h1v1h-1zM118,93h1v1h-1zM84,94h1v1h-1zM119,94h1v1h-1zM83,95h1v1h-1zM120,95h1v1h-1zM81,96h2v1h-2zM121,96h1v1h-1zM80,97h1v1h-1zM122,97h1v1h-1zM76,98h4v1h-4zM123,98h1v1h-1zM64,99h12v1h-12zM124,99h1v1h-1zM62,100h2v1h-2zM125,100h1v1h-1zM17,101h8v1h-8zM55,101h7v1h-7zM126,101h1v1h-1zM14,102h3v1h-3zM25,102h2v1h-2zM50,102h5v1h-5zM127,102h2v1h-2zM12,103h2v1h-2zM27,103h1v1h-1zM48,103h2v1h-2zM129,103h1v1h-1zM10,104h2v1h-2zM28,104h1v1h-1zM46,104h2v1h-2zM130,104h1v1h-1zM8,105h2v1h-2zM29,105h2v1h-2zM43,105h3v1h-3zM131,105h1v1h-1zM6,106h2v1h-2zM31,106h12v1h-12zM4,107h2v1h-2zM2,108h2v1h-2zM133,108h1v1h-1zM134,109h1v1h-1zM136,112h1v1h-1zM137,113h1v1h-1zM139,117h1v1h-1zM140,118h1v1h-1zM142,121h1v1h-1zM143,122h1v1h-1zM144,123h1v1h-1zM146,126h1v1h-1zM147,127h1v1h-1zM148,128h1v1h-1zM149,129h1v1h-1zM150,130h1v1h-1zM151,131h1v1h-1zM152,132h1v1h-1zM153,133h2v1h-2zM155,134h1v1h-1zM156,135h3v1h-3zM159,136h2v1h-2zM161,137h1v1h-1zM162,138h2v1h-2zM164,139h1v1h-1zM165,140h1v1h-1zM166,141h1v1h-1zM167,142h1v1h-1zM168,143h2v1h-2zM170,144h1v1h-1zM171,145h3v1h-3zM174,146h2v1h-2zM176,147h2v1h-2zM178,148h2v1h-2zM180,149h1v1h-1zM181,150h1v1h-1zM182,151h1v1h-1zM183,152h1v1h-1zM184,153h1v1h-1zM186,156h1v1h-1zM188,159h1v1h-1zM189,160h1v1h-1zM190,161h1v1h-1zM374,161h17v1h-17zM371,162h3v1h-3zM391,162h3v1h-3zM370,163h1v1h-1zM394,163h1v1h-1zM192,164h1v1h-1zM369,164h1v1h-1zM395,164h1v1h-1zM193,165h1v1h-1zM396,165h2v1h-2zM398,166h1v1h-1zM367,167h1v1h-1zM399,167h1v1h-1zM195,168h1v1h-1zM400,168h1v1h-1zM196,169h1v1h-1zM401,169h1v1h-1zM197,170h1v1h-1zM365,170h1v1h-1zM403,172h1v1h-1zM199,173h1v1h-1zM363,173h1v1h-1zM200,174h1v1h-1zM201,175h1v1h-1zM202,176h1v1h-1zM203,177h1v1h-1zM204,178h1v1h-1zM360,178h1v1h-1zM205,179h1v1h-1zM206,180h3v1h-3zM209,181h2v1h-2zM211,182h1v1h-1zM212,183h1v1h-1zM357,183h1v1h-1zM213,184h1v1h-1zM214,185h1v1h-1zM215,186h1v1h-1zM355,186h1v1h-1zM216,187h1v1h-1zM354,187h1v1h-1zM217,188h1v1h-1zM353,188h1v1h-1zM218,189h1v1h-1zM352,189h1v1h-1zM219,190h1v1h-1zM350,190h2v1h-2zM220,191h1v1h-1zM348,191h2v1h-2zM221,192h1v1h-1zM346,192h2v1h-2zM222,193h1v1h-1zM343,193h3v1h-3zM223,194h1v1h-1zM341,194h2v1h-2zM514,194h5v1h-5zM224,195h1v1h-1zM339,195h2v1h-2zM513,195h1v1h-1zM519,195h1v1h-1zM225,196h1v1h-1zM337,196h2v1h-2zM520,196h2v1h-2zM226,197h2v1h-2zM335,197h2v1h-2zM522,197h1v1h-1zM228,198h2v1h-2zM333,198h2v1h-2zM511,198h1v1h-1zM523,198h1v1h-1zM230,199h2v1h-2zM331,199h2v1h-2zM510,199h1v1h-1zM524,199h1v1h-1zM232,200h2v1h-2zM329,200h2v1h-2zM509,200h1v1h-1zM525,200h1v1h-1zM234,201h2v1h-2zM328,201h1v1h-1zM508,201h1v1h-1zM526,201h1v1h-1zM632,201h7v1h-7zM673,201h10v1h-10zM236,202h2v1h-2zM327,202h1v1h-1zM416,202h1v1h-1zM507,202h1v1h-1zM527,202h1v1h-1zM609,202h3v1h-3zM630,202h2v1h-2zM639,202h3v1h-3zM671,202h2v1h-2zM683,202h6v1h-6zM238,203h2v1h-2zM325,203h2v1h-2zM506,203h1v1h-1zM528,203h1v1h-1zM607,203h2v1h-2zM612,203h2v1h-2zM629,203h1v1h-1zM642,203h1v1h-1zM669,203h2v1h-2zM689,203h13v1h-13zM240,204h2v1h-2zM324,204h1v1h-1zM505,204h1v1h-1zM529,204h1v1h-1zM605,204h2v1h-2zM614,204h1v1h-1zM628,204h1v1h-1zM643,204h2v1h-2zM668,204h1v1h-1zM702,204h3v1h-3zM242,205h2v1h-2zM322,205h2v1h-2zM504,205h1v1h-1zM604,205h1v1h-1zM615,205h1v1h-1zM626,205h2v1h-2zM645,205h2v1h-2zM667,205h1v1h-1zM705,205h1v1h-1zM244,206h2v1h-2zM320,206h2v1h-2zM502,206h2v1h-2zM603,206h1v1h-1zM616,206h1v1h-1zM625,206h1v1h-1zM647,206h2v1h-2zM666,206h1v1h-1zM706,206h1v1h-1zM246,207h3v1h-3zM319,207h1v1h-1zM501,207h1v1h-1zM531,207h1v1h-1zM602,207h1v1h-1zM617,207h2v1h-2zM623,207h2v1h-2zM649,207h3v1h-3zM665,207h1v1h-1zM707,207h1v1h-1zM249,208h18v1h-18zM317,208h2v1h-2zM499,208h2v1h-2zM532,208h1v1h-1zM600,208h2v1h-2zM619,208h4v1h-4zM652,208h4v1h-4zM663,208h2v1h-2zM708,208h2v1h-2zM267,209h5v1h-5zM316,209h1v1h-1zM494,209h5v1h-5zM533,209h1v1h-1zM561,209h5v1h-5zM599,209h1v1h-1zM656,209h7v1h-7zM710,209h1v1h-1zM272,210h5v1h-5zM314,210h2v1h-2zM493,210h1v1h-1zM558,210h3v1h-3zM566,210h2v1h-2zM598,210h1v1h-1zM711,210h1v1h-1zM277,211h4v1h-4zM289,211h21v1h-21zM311,211h3v1h-3zM492,211h1v1h-1zM556,211h2v1h-2zM568,211h1v1h-1zM597,211h1v1h-1zM712,211h1v1h-1zM281,212h8v1h-8zM310,212h1v1h-1zM491,212h1v1h-1zM535,212h1v1h-1zM554,212h2v1h-2zM569,212h1v1h-1zM596,212h1v1h-1zM713,212h1v1h-1zM536,213h1v1h-1zM553,213h1v1h-1zM570,213h1v1h-1zM595,213h1v1h-1zM714,213h1v1h-1zM551,214h2v1h-2zM571,214h1v1h-1zM594,214h1v1h-1zM715,214h1v1h-1zM550,215h1v1h-1zM572,215h1v1h-1zM593,215h1v1h-1zM716,215h1v1h-1zM538,216h1v1h-1zM548,216h2v1h-2zM573,216h1v1h-1zM592,216h1v1h-1zM717,216h2v1h-2zM539,217h1v1h-1zM547,217h1v1h-1zM574,217h1v1h-1zM591,217h1v1h-1zM719,217h1v1h-1zM540,218h1v1h-1zM546,218h1v1h-1zM575,218h1v1h-1zM588,218h3v1h-3zM720,218h1v1h-1zM541,219h1v1h-1zM544,219h2v1h-2zM576,219h2v1h-2zM584,219h4v1h-4zM721,219h1v1h-1zM542,220h2v1h-2zM578,220h6v1h-6zM722,220h1v1h-1zM723,221h1v1h-1zM724,222h1v1h-1zM725,223h1v1h-1zM726,224h1v1h-1zM727,225h1v1h-1zM728,226h1v1h-1zM729,227h1v1h-1zM730,228h4v1h-4zM734,229h2v1h-2zM736,230h1v1h-1zM737,231h1v1h-1zM738,232h1v1h-1zM739,233h1v1h-1zM740,234h1v1h-1zM743,239h1v1h-1zM755,265h1v1h-1zM757,268h1v1h-1zM758,269h1v1h-1zM760,272h1v1h-1zM761,273h1v1h-1zM762,274h2v1h-2zM764,275h1v1h-1zM765,276h1v1h-1zM766,277h1v1h-1zM767,278h1v1h-1zM768,279h1v1h-1zM437,280h1v1h-1zM769,280h1v1h-1zM770,281h1v1h-1zM771,282h1v1h-1zM772,283h1v1h-1zM773,284h1v1h-1zM774,285h2v1h-2zM776,286h1v1h-1zM777,287h1v1h-1zM778,288h1v1h-1zM779,289h1v1h-1zM780,290h1v1h-1zM781,291h1v1h-1zM782,292h1v1h-1zM783,293h1v1h-1zM784,294h1v1h-1zM444,295h1v1h-1zM785,295h1v1h-1zM786,296h1v1h-1zM787,297h1v1h-1zM788,298h2v1h-2zM790,299h1v1h-1zM447,300h1v1h-1zM448,301h1v1h-1zM792,302h1v1h-1zM793,303h1v1h-1zM450,304h1v1h-1zM794,304h1v1h-1zM812,304h2v1h-2zM451,305h1v1h-1zM795,305h1v1h-1zM809,305h3v1h-3zM814,305h3v1h-3zM796,306h1v1h-1zM806,306h3v1h-3zM817,306h2v1h-2zM462,307h1v1h-1zM797,307h1v1h-1zM803,307h3v1h-3zM819,307h2v1h-2zM453,308h1v1h-1zM461,308h1v1h-1zM798,308h5v1h-5zM821,308h3v1h-3zM454,309h1v1h-1zM460,309h1v1h-1zM824,309h2v1h-2zM455,310h2v1h-2zM459,310h1v1h-1zM826,310h3v1h-3zM457,311h2v1h-2zM829,311h2v1h-2zM831,312h2v1h-2zM833,313h1v1h-1zM834,314h1v1h-1zM835,315h1v1h-1zM836,316h1v1h-1zM837,317h1v1h-1zM838,318h1v1h-1zM839,319h2v1h-2zM841,320h1v1h-1zM842,321h1v1h-1zM843,322h1v1h-1zM844,323h2v1h-2zM846,324h1v1h-1zM847,325h2v1h-2zM849,326h3v1h-3zM852,327h2v1h-2zM854,328h1v1h-1zM855,329h2v1h-2zM857,330h2v1h-2zM859,331h1v1h-1zM860,332h2v1h-2zM862,333h1v1h-1zM863,334h2v1h-2zM865,335h2v1h-2zM867,336h2v1h-2zM869,337h1v1h-1zM870,338h3v1h-3zM873,339h1v1h-1zM874,340h2v1h-2zM876,341h2v1h-2zM878,342h2v1h-2zM880,343h2v1h-2zM882,344h2v1h-2zM884,345h2v1h-2zM886,346h1v1h-1zM887,347h2v1h-2zM889,348h1v1h-1zM890,349h1v1h-1zM891,350h1v1h-1zM892,351h1v1h-1zM894,354h1v1h-1zM896,357h1v1h-1zM898,360h1v1h-1zM900,363h1v1h-1zM902,366h1v1h-1zM904,369h1v1h-1zM906,372h1v1h-1zM908,375h1v1h-1zM915,389h1v1h-1zM933,430h1v1h-1zM936,435h1v1h-1zM1153,438h6v1h-6zM938,439h1v1h-1zM1150,439h3v1h-3zM1159,439h3v1h-3zM1147,440h3v1h-3zM1162,440h1v1h-1zM1146,441h1v1h-1zM1163,441h1v1h-1zM1144,442h2v1h-2zM1164,442h1v1h-1zM1143,443h1v1h-1zM1165,443h1v1h-1zM1142,444h1v1h-1zM1166,444h1v1h-1zM1141,445h1v1h-1zM1167,445h1v1h-1zM1140,446h1v1h-1zM1168,446h1v1h-1zM1139,447h1v1h-1zM1138,448h1v1h-1zM1137,449h1v1h-1zM1136,450h1v1h-1zM1135,451h1v1h-1zM1171,451h1v1h-1zM1134,452h1v1h-1zM1133,453h1v1h-1zM1132,454h1v1h-1zM1173,454h1v1h-1zM1131,455h1v1h-1zM1174,455h1v1h-1zM1129,458h1v1h-1zM1176,458h1v1h-1zM1128,459h1v1h-1zM1177,459h1v1h-1zM1127,460h1v1h-1zM1178,460h1v1h-1zM1126,461h1v1h-1zM1179,461h1v1h-1zM1180,462h1v1h-1zM948,463h1v1h-1zM1181,463h2v1h-2zM1124,464h1v1h-1zM1183,464h2v1h-2zM1123,465h1v1h-1zM1185,465h2v1h-2zM950,466h1v1h-1zM1187,466h2v1h-2zM951,467h1v1h-1zM1189,467h2v1h-2zM952,468h2v1h-2zM1121,468h1v1h-1zM1191,468h2v1h-2zM954,469h2v1h-2zM1120,469h1v1h-1zM1193,469h1v1h-1zM956,470h2v1h-2zM1194,470h1v1h-1zM958,471h1v1h-1zM1195,471h1v1h-1zM959,472h2v1h-2zM1118,472h1v1h-1zM1196,472h2v1h-2zM961,473h2v1h-2zM1198,473h1v1h-1zM963,474h1v1h-1zM1199,474h1v1h-1zM964,475h2v1h-2zM1116,475h1v1h-1zM1200,475h1v1h-1zM966,476h1v1h-1zM1115,476h1v1h-1zM1201,476h1v1h-1zM967,477h2v1h-2zM1114,477h1v1h-1zM1202,477h1v1h-1zM969,478h2v1h-2zM1113,478h1v1h-1zM1203,478h2v1h-2zM971,479h1v1h-1zM1112,479h1v1h-1zM1205,479h1v1h-1zM972,480h3v1h-3zM977,480h5v1h-5zM1111,480h1v1h-1zM1206,480h1v1h-1zM975,481h2v1h-2zM982,481h1v1h-1zM1110,481h1v1h-1zM1207,481h2v1h-2zM983,482h1v1h-1zM1108,482h2v1h-2zM1209,482h1v1h-1zM984,483h1v1h-1zM1107,483h1v1h-1zM1210,483h1v1h-1zM985,484h1v1h-1zM1105,484h2v1h-2zM1211,484h1v1h-1zM986,485h1v1h-1zM1104,485h1v1h-1zM1212,485h1v1h-1zM987,486h1v1h-1zM1102,486h2v1h-2zM1213,486h1v1h-1zM988,487h1v1h-1zM1086,487h7v1h-7zM1097,487h5v1h-5zM1214,487h1v1h-1zM989,488h1v1h-1zM1000,488h7v1h-7zM1083,488h3v1h-3zM1093,488h4v1h-4zM1215,488h1v1h-1zM990,489h1v1h-1zM998,489h2v1h-2zM1007,489h2v1h-2zM1082,489h1v1h-1zM1216,489h1v1h-1zM1247,489h7v1h-7zM991,490h2v1h-2zM995,490h3v1h-3zM1009,490h1v1h-1zM1080,490h2v1h-2zM1217,490h1v1h-1zM1242,490h5v1h-5zM993,491h2v1h-2zM1010,491h2v1h-2zM1079,491h1v1h-1zM1218,491h1v1h-1zM1239,491h3v1h-3zM1012,492h1v1h-1zM1077,492h2v1h-2zM1219,492h1v1h-1zM1237,492h2v1h-2zM1013,493h1v1h-1zM1074,493h3v1h-3zM1220,493h3v1h-3zM1234,493h3v1h-3zM1014,494h2v1h-2zM1057,494h17v1h-17zM1223,494h11v1h-11zM1016,495h1v1h-1zM1049,495h8v1h-8zM1017,496h1v1h-1zM1047,496h2v1h-2zM1018,497h2v1h-2zM1044,497h3v1h-3zM1020,498h2v1h-2zM1043,498h1v1h-1zM1022,499h2v1h-2zM1041,499h2v1h-2zM1024,500h2v1h-2zM1039,500h2v1h-2zM1026,501h2v1h-2zM1036,501h3v1h-3zM1028,502h8v1h-8z" fill="#ff0000"/><path d="M188,128h1v2h-1zM191,131h1v2h-1zM194,135h1v2h-1zM195,137h1v2h-1zM198,141h1v2h-1zM203,147h1v2h-1zM426,202h1v2h-1zM428,205h1v2h-1zM430,208h1v2h-1zM432,211h1v2h-1zM434,214h1v2h-1zM436,217h1v2h-1zM542,233h1v2h-1zM543,231h1v2h-1zM546,227h1v2h-1zM549,223h1v2h-1zM551,220h1v2h-1zM749,225h1v2h-1zM750,227h1v2h-1zM775,247h1v2h-1zM895,332h1v2h-1zM899,337h1v2h-1zM903,342h1v2h-1zM908,348h1v2h-1zM913,353h1v2h-1zM917,358h1v2h-1zM919,361h1v2h-1zM921,364h1v2h-1zM923,367h1v2h-1zM924,369h1v2h-1zM926,372h1v2h-1zM928,375h1v2h-1zM934,382h1v2h-1zM938,387h1v2h-1zM941,391h1v2h-1zM942,393h1v2h-1zM944,396h1v2h-1zM945,398h1v2h-1zM947,401h1v2h-1zM950,405h1v2h-1zM968,424h1v2h-1zM972,429h1v2h-1zM974,432h1v2h-1zM977,436h1v2h-1zM980,440h1v2h-1zM982,443h1v2h-1zM987,449h1v2h-1zM991,454h1v2h-1zM995,459h1v2h-1zM1002,467h1v2h-1zM91,96h5v1h-5zM114,96h5v1h-5zM88,97h3v1h-3zM96,97h2v1h-2zM108,97h6v1h-6zM119,97h5v1h-5zM84,98h4v1h-4zM98,98h10v1h-10zM124,98h2v1h-2zM1,99h22v1h-22zM82,99h2v1h-2zM126,99h3v1h-3zM23,100h8v1h-8zM79,100h3v1h-3zM129,100h3v1h-3zM31,101h3v1h-3zM77,101h2v1h-2zM132,101h1v1h-1zM34,102h3v1h-3zM74,102h3v1h-3zM133,102h3v1h-3zM37,103h2v1h-2zM72,103h2v1h-2zM136,103h2v1h-2zM39,104h2v1h-2zM69,104h3v1h-3zM138,104h1v1h-1zM41,105h1v1h-1zM67,105h2v1h-2zM139,105h2v1h-2zM42,106h3v1h-3zM61,106h6v1h-6zM141,106h2v1h-2zM45,107h2v1h-2zM57,107h4v1h-4zM143,107h2v1h-2zM47,108h10v1h-10zM145,108h3v1h-3zM148,109h2v1h-2zM150,110h4v1h-4zM154,111h4v1h-4zM158,112h2v1h-2zM160,113h4v1h-4zM164,114h4v1h-4zM168,115h1v1h-1zM169,116h3v1h-3zM172,117h3v1h-3zM175,118h1v1h-1zM176,119h2v1h-2zM178,120h1v1h-1zM179,121h2v1h-2zM181,122h1v1h-1zM182,123h1v1h-1zM183,124h1v1h-1zM184,125h2v1h-2zM186,126h1v1h-1zM187,127h1v1h-1zM189,130h2v1h-2zM192,133h1v1h-1zM193,134h1v1h-1zM196,139h1v1h-1zM197,140h1v1h-1zM199,143h1v1h-1zM200,144h1v1h-1zM201,145h1v1h-1zM202,146h1v1h-1zM204,149h1v1h-1zM205,150h1v1h-1zM206,151h1v1h-1zM207,152h1v1h-1zM208,153h1v1h-1zM209,154h1v1h-1zM210,155h1v1h-1zM211,156h1v1h-1zM212,157h1v1h-1zM213,158h1v1h-1zM214,159h1v1h-1zM215,160h2v1h-2zM217,161h1v1h-1zM218,162h3v1h-3zM221,163h1v1h-1zM222,164h2v1h-2zM224,165h1v1h-1zM225,166h2v1h-2zM227,167h2v1h-2zM229,168h2v1h-2zM231,169h1v1h-1zM232,170h2v1h-2zM234,171h1v1h-1zM235,172h2v1h-2zM237,173h1v1h-1zM238,174h2v1h-2zM240,175h1v1h-1zM241,176h1v1h-1zM242,177h2v1h-2zM244,178h1v1h-1zM245,179h1v1h-1zM246,180h1v1h-1zM247,181h1v1h-1zM248,182h1v1h-1zM390,182h9v1h-9zM249,183h1v1h-1zM385,183h5v1h-5zM399,183h4v1h-4zM250,184h2v1h-2zM381,184h4v1h-4zM403,184h2v1h-2zM252,185h1v1h-1zM378,185h3v1h-3zM405,185h2v1h-2zM253,186h1v1h-1zM376,186h2v1h-2zM407,186h2v1h-2zM254,187h2v1h-2zM374,187h2v1h-2zM409,187h1v1h-1zM256,188h2v1h-2zM371,188h3v1h-3zM410,188h2v1h-2zM258,189h1v1h-1zM370,189h1v1h-1zM412,189h1v1h-1zM259,190h2v1h-2zM368,190h2v1h-2zM413,190h2v1h-2zM261,191h2v1h-2zM367,191h1v1h-1zM415,191h1v1h-1zM263,192h1v1h-1zM365,192h2v1h-2zM416,192h1v1h-1zM264,193h3v1h-3zM364,193h1v1h-1zM417,193h1v1h-1zM267,194h2v1h-2zM363,194h1v1h-1zM418,194h1v1h-1zM269,195h3v1h-3zM362,195h1v1h-1zM419,195h1v1h-1zM272,196h2v1h-2zM360,196h2v1h-2zM420,196h1v1h-1zM274,197h2v1h-2zM359,197h1v1h-1zM421,197h1v1h-1zM276,198h2v1h-2zM357,198h2v1h-2zM422,198h1v1h-1zM278,199h2v1h-2zM355,199h2v1h-2zM423,199h1v1h-1zM280,200h2v1h-2zM353,200h2v1h-2zM424,200h1v1h-1zM282,201h2v1h-2zM349,201h4v1h-4zM425,201h1v1h-1zM284,202h2v1h-2zM346,202h3v1h-3zM692,202h11v1h-11zM286,203h7v1h-7zM342,203h4v1h-4zM685,203h7v1h-7zM703,203h2v1h-2zM293,204h4v1h-4zM338,204h4v1h-4zM427,204h1v1h-1zM576,204h7v1h-7zM673,204h12v1h-12zM705,204h1v1h-1zM297,205h1v1h-1zM333,205h5v1h-5zM574,205h2v1h-2zM583,205h2v1h-2zM669,205h4v1h-4zM706,205h2v1h-2zM298,206h2v1h-2zM328,206h5v1h-5zM572,206h2v1h-2zM585,206h1v1h-1zM667,206h2v1h-2zM708,206h1v1h-1zM300,207h2v1h-2zM322,207h6v1h-6zM429,207h1v1h-1zM571,207h1v1h-1zM586,207h2v1h-2zM627,207h11v1h-11zM664,207h3v1h-3zM709,207h1v1h-1zM302,208h2v1h-2zM316,208h6v1h-6zM569,208h2v1h-2zM588,208h2v1h-2zM624,208h3v1h-3zM638,208h3v1h-3zM660,208h4v1h-4zM710,208h2v1h-2zM304,209h12v1h-12zM567,209h2v1h-2zM590,209h3v1h-3zM621,209h3v1h-3zM641,209h3v1h-3zM657,209h3v1h-3zM712,209h2v1h-2zM431,210h1v1h-1zM564,210h3v1h-3zM593,210h2v1h-2zM617,210h4v1h-4zM644,210h4v1h-4zM651,210h6v1h-6zM714,210h2v1h-2zM562,211h2v1h-2zM595,211h4v1h-4zM613,211h4v1h-4zM648,211h3v1h-3zM716,211h3v1h-3zM560,212h2v1h-2zM599,212h2v1h-2zM611,212h2v1h-2zM719,212h2v1h-2zM433,213h1v1h-1zM558,213h2v1h-2zM601,213h10v1h-10zM721,213h1v1h-1zM557,214h1v1h-1zM722,214h3v1h-3zM556,215h1v1h-1zM725,215h3v1h-3zM435,216h1v1h-1zM555,216h1v1h-1zM728,216h4v1h-4zM735,216h5v1h-5zM554,217h1v1h-1zM732,217h3v1h-3zM740,217h2v1h-2zM553,218h1v1h-1zM742,218h1v1h-1zM437,219h1v1h-1zM552,219h1v1h-1zM743,219h1v1h-1zM438,220h1v1h-1zM744,220h1v1h-1zM439,221h1v1h-1zM745,221h1v1h-1zM440,222h1v1h-1zM550,222h1v1h-1zM746,222h1v1h-1zM441,223h1v1h-1zM747,223h1v1h-1zM442,224h1v1h-1zM748,224h1v1h-1zM443,225h2v1h-2zM548,225h1v1h-1zM445,226h1v1h-1zM547,226h1v1h-1zM446,227h1v1h-1zM447,228h1v1h-1zM448,229h1v1h-1zM545,229h1v1h-1zM751,229h1v1h-1zM449,230h1v1h-1zM544,230h1v1h-1zM752,230h1v1h-1zM450,231h2v1h-2zM753,231h1v1h-1zM452,232h1v1h-1zM754,232h1v1h-1zM453,233h1v1h-1zM755,233h1v1h-1zM454,234h1v1h-1zM472,234h13v1h-13zM756,234h2v1h-2zM455,235h2v1h-2zM468,235h4v1h-4zM485,235h3v1h-3zM541,235h1v1h-1zM758,235h1v1h-1zM457,236h1v1h-1zM466,236h2v1h-2zM488,236h1v1h-1zM540,236h1v1h-1zM759,236h1v1h-1zM458,237h8v1h-8zM489,237h1v1h-1zM539,237h1v1h-1zM760,237h2v1h-2zM490,238h1v1h-1zM538,238h1v1h-1zM762,238h1v1h-1zM491,239h1v1h-1zM536,239h2v1h-2zM763,239h1v1h-1zM492,240h1v1h-1zM534,240h2v1h-2zM764,240h3v1h-3zM493,241h1v1h-1zM532,241h2v1h-2zM767,241h1v1h-1zM494,242h1v1h-1zM530,242h2v1h-2zM768,242h1v1h-1zM495,243h1v1h-1zM528,243h2v1h-2zM769,243h2v1h-2zM496,244h2v1h-2zM527,244h1v1h-1zM771,244h1v1h-1zM498,245h1v1h-1zM526,245h1v1h-1zM772,245h1v1h-1zM499,246h1v1h-1zM524,246h2v1h-2zM773,246h2v1h-2zM500,247h1v1h-1zM522,247h2v1h-2zM501,248h2v1h-2zM521,248h1v1h-1zM503,249h1v1h-1zM519,249h2v1h-2zM776,249h2v1h-2zM504,250h2v1h-2zM516,250h3v1h-3zM778,250h1v1h-1zM506,251h3v1h-3zM512,251h4v1h-4zM779,251h1v1h-1zM509,252h3v1h-3zM780,252h1v1h-1zM781,253h2v1h-2zM783,254h1v1h-1zM784,255h1v1h-1zM785,256h1v1h-1zM786,257h1v1h-1zM787,258h1v1h-1zM788,259h2v1h-2zM790,260h1v1h-1zM791,261h1v1h-1zM792,262h1v1h-1zM793,263h1v1h-1zM794,264h1v1h-1zM795,265h1v1h-1zM796,266h1v1h-1zM797,267h1v1h-1zM798,268h1v1h-1zM799,269h1v1h-1zM800,270h2v1h-2zM802,271h1v1h-1zM803,272h1v1h-1zM804,273h2v1h-2zM806,274h1v1h-1zM807,275h1v1h-1zM808,276h1v1h-1zM809,277h1v1h-1zM810,278h1v1h-1zM811,279h1v1h-1zM812,280h1v1h-1zM813,281h1v1h-1zM814,282h1v1h-1zM815,283h1v1h-1zM816,284h1v1h-1zM817,285h1v1h-1zM818,286h1v1h-1zM819,287h1v1h-1zM820,288h1v1h-1zM821,289h1v1h-1zM822,290h2v1h-2zM824,291h1v1h-1zM825,292h1v1h-1zM826,293h2v1h-2zM828,294h1v1h-1zM829,295h2v1h-2zM831,296h2v1h-2zM833,297h1v1h-1zM834,298h2v1h-2zM836,299h1v1h-1zM837,300h1v1h-1zM838,301h2v1h-2zM840,302h1v1h-1zM841,303h2v1h-2zM843,304h1v1h-1zM844,305h1v1h-1zM845,306h1v1h-1zM846,307h2v1h-2zM848,308h1v1h-1zM849,309h1v1h-1zM850,310h1v1h-1zM851,311h1v1h-1zM852,312h1v1h-1zM853,313h2v1h-2zM855,314h1v1h-1zM856,315h1v1h-1zM857,316h1v1h-1zM858,317h1v1h-1zM859,318h2v1h-2zM861,319h1v1h-1zM862,320h2v1h-2zM864,321h2v1h-2zM870,321h4v1h-4zM866,322h4v1h-4zM874,322h4v1h-4zM878,323h2v1h-2zM880,324h3v1h-3zM883,325h2v1h-2zM885,326h2v1h-2zM887,327h2v1h-2zM889,328h1v1h-1zM890,329h2v1h-2zM892,330h1v1h-1zM893,331h2v1h-2zM896,334h1v1h-1zM897,335h1v1h-1zM898,336h1v1h-1zM900,339h1v1h-1zM901,340h1v1h-1zM902,341h1v1h-1zM904,344h1v1h-1zM905,345h1v1h-1zM906,346h1v1h-1zM907,347h1v1h-1zM909,350h1v1h-1zM910,351h2v1h-2zM912,352h1v1h-1zM914,355h1v1h-1zM915,356h1v1h-1zM916,357h1v1h-1zM918,360h1v1h-1zM920,363h1v1h-1zM922,366h1v1h-1zM925,371h1v1h-1zM927,374h1v1h-1zM929,377h1v1h-1zM930,378h1v1h-1zM931,379h1v1h-1zM932,380h1v1h-1zM933,381h1v1h-1zM935,384h1v1h-1zM936,385h1v1h-1zM937,386h1v1h-1zM939,389h1v1h-1zM940,390h1v1h-1zM943,395h1v1h-1zM946,400h1v1h-1zM948,403h1v1h-1zM949,404h1v1h-1zM951,407h1v1h-1zM952,408h1v1h-1zM953,409h1v1h-1zM954,410h1v1h-1zM955,411h1v1h-1zM956,412h1v1h-1zM957,413h1v1h-1zM958,414h1v1h-1zM959,415h1v1h-1zM960,416h1v1h-1zM961,417h1v1h-1zM962,418h1v1h-1zM963,419h1v1h-1zM964,420h1v1h-1zM965,421h1v1h-1zM966,422h1v1h-1zM967,423h1v1h-1zM969,426h1v1h-1zM970,427h1v1h-1zM971,428h1v1h-1zM973,431h1v1h-1zM975,434h1v1h-1zM976,435h1v1h-1zM978,438h1v1h-1zM979,439h1v1h-1zM981,442h1v1h-1zM983,445h1v1h-1zM984,446h1v1h-1zM985,447h1v1h-1zM986,448h1v1h-1zM988,451h1v1h-1zM989,452h1v1h-1zM990,453h1v1h-1zM992,456h1v1h-1zM993,457h1v1h-1zM994,458h1v1h-1zM996,461h1v1h-1zM997,462h1v1h-1zM1159,462h6v1h-6zM1189,462h20v1h-20zM998,463h1v1h-1zM1155,463h4v1h-4zM1165,463h3v1h-3zM1185,463h4v1h-4zM1209,463h5v1h-5zM999,464h1v1h-1zM1152,464h3v1h-3zM1168,464h6v1h-6zM1182,464h3v1h-3zM1214,464h4v1h-4zM1000,465h1v1h-1zM1149,465h3v1h-3zM1174,465h8v1h-8zM1218,465h2v1h-2zM1001,466h1v1h-1zM1147,466h2v1h-2zM1220,466h2v1h-2zM1145,467h2v1h-2zM1222,467h2v1h-2zM1144,468h1v1h-1zM1224,468h3v1h-3zM1003,469h1v1h-1zM1142,469h2v1h-2zM1227,469h1v1h-1zM1004,470h1v1h-1zM1141,470h1v1h-1zM1228,470h3v1h-3zM1005,471h1v1h-1zM1139,471h2v1h-2zM1231,471h2v1h-2zM1006,472h1v1h-1zM1137,472h2v1h-2zM1233,472h3v1h-3zM1007,473h1v1h-1zM1135,473h2v1h-2zM1236,473h2v1h-2zM1008,474h1v1h-1zM1132,474h3v1h-3zM1238,474h2v1h-2zM1009,475h1v1h-1zM1129,475h3v1h-3zM1240,475h3v1h-3zM1010,476h2v1h-2zM1128,476h1v1h-1zM1243,476h2v1h-2zM1012,477h1v1h-1zM1126,477h2v1h-2zM1245,477h3v1h-3zM1013,478h1v1h-1zM1124,478h2v1h-2zM1248,478h3v1h-3zM1014,479h2v1h-2zM1123,479h1v1h-1zM1251,479h2v1h-2zM1016,480h2v1h-2zM1121,480h2v1h-2zM1253,480h1v1h-1zM1018,481h2v1h-2zM1120,481h1v1h-1zM1020,482h2v1h-2zM1118,482h2v1h-2zM1022,483h1v1h-1zM1117,483h1v1h-1zM1023,484h2v1h-2zM1115,484h2v1h-2zM1025,485h1v1h-1zM1113,485h2v1h-2zM1026,486h1v1h-1zM1112,486h1v1h-1zM1027,487h1v1h-1zM1111,487h1v1h-1zM1028,488h1v1h-1zM1110,488h1v1h-1zM1029,489h1v1h-1zM1108,489h2v1h-2zM1030,490h2v1h-2zM1106,490h2v1h-2zM1032,491h2v1h-2zM1048,491h2v1h-2zM1061,491h7v1h-7zM1104,491h2v1h-2zM1034,492h14v1h-14zM1050,492h6v1h-6zM1057,492h4v1h-4zM1068,492h3v1h-3zM1103,492h1v1h-1zM1056,493h1v1h-1zM1071,493h3v1h-3zM1101,493h2v1h-2zM1074,494h3v1h-3zM1099,494h2v1h-2zM1077,495h5v1h-5zM1097,495h2v1h-2zM1082,496h15v1h-15z" fill="#0000cd"/>
</g>
<rect x="1" y="264" width="1576" height="2" fill="#ff0000"/>
<rect x="0" y="262" width="6" height="6" fill="#ff0000"/><rect x="2" y="264" width="2" height="2" fill="#fff"/>
<rect x="1571" y="262" width="6" height="6" fill="#ff0000"/><rect x="1573" y="264" width="2" height="2" fill="#fff"/>
<rect x="1" y="328" width="1576" height="2" fill="#ff0000"/>
<rect x="0" y="326" width="6" height="6" fill="#ff0000"/><rect x="2" y="328" width="2" height="2" fill="#fff"/>
<rect x="1571" y="326" width="6" height="6" fill="#ff0000"/><rect x="1573" y="328" width="2" height="2" fill="#fff"/>
<rect x="1" y="394" width="1576" height="2" fill="#ff0000"/>
<rect x="0" y="392" width="6" height="6" fill="#ff0000"/><rect x="2" y="394" width="2" height="2" fill="#fff"/>
<rect x="1571" y="392" width="6" height="6" fill="#ff0000"/><rect x="1573" y="394" width="2" height="2" fill="#fff"/>
<rect x="1" y="457" width="1576" height="2" fill="#00ff00"/>
<rect x="0" y="455" width="6" height="6" fill="#00ff00"/><rect x="2" y="457" width="2" height="2" fill="#fff"/>
<rect x="1571" y="455" width="6" height="6" fill="#00ff00"/><rect x="1573" y="457" width="2" height="2" fill="#fff"/>
<rect x="1" y="537" width="1576" height="2" fill="#0000ff"/>
<rect x="0" y="535" width="6" height="6" fill="#0000ff"/><rect x="2" y="537" width="2" height="2" fill="#fff"/>
<rect x="1571" y="535" width="6" height="6" fill="#0000ff"/><rect x="1573" y="537" width="2" height="2" fill="#fff"/>
<path d="M1256,27h9v1h-1v1h-1v1h-1v1h-1v1h-1v-1h-1v-1h-1v-1h-1v-1h-1z" fill="#c0c0c0"/>
<rect x="0" y="26" width="1578" height="1" fill="#000"/><rect x="0" y="26" width="1" height="724" fill="#000"/>
<rect x="1577" y="26" width="1" height="724" fill="#000"/>
<rect x="0" y="553" width="1578" height="1" fill="#000"/><rect x="0" y="554" width="1578" height="1" fill="#fff"/><rect x="0" y="555" width="1578" height="1" fill="#000"/>
<rect x="0" y="651" width="1578" height="1" fill="#000"/><rect x="0" y="652" width="1578" height="1" fill="#fff"/><rect x="0" y="653" width="1578" height="1" fill="#000"/>
<rect x="0" y="749" width="1578" height="1" fill="#000"/>
<rect x="1578" y="55" width="2" height="1" fill="#000"/>
<text x="1582.7" y="59" textLength="33.2">1.00160</text>
<rect x="1578" y="88" width="2" height="1" fill="#000"/>
<text x="1582.7" y="92" textLength="33.2">0.99460</text>
<rect x="1578" y="121" width="2" height="1" fill="#000"/>
<text x="1582.7" y="125" textLength="33.2">0.98780</text>
<rect x="1578" y="154" width="2" height="1" fill="#000"/>
<text x="1582.7" y="158" textLength="33.2">0.98080</text>
<rect x="1578" y="187" width="2" height="1" fill="#000"/>
<text x="1582.7" y="191" textLength="33.2">0.97400</text>
<rect x="1578" y="220" width="2" height="1" fill="#000"/>
<text x="1582.7" y="224" textLength="33.2">0.96700</text>
<rect x="1578" y="253" width="2" height="1" fill="#000"/>
<text x="1582.7" y="257" textLength="33.2">0.96000</text>
<rect x="1578" y="286" width="2" height="1" fill="#000"/>
<text x="1582.7" y="290" textLength="33.2">0.95320</text>
<rect x="1578" y="319" width="2" height="1" fill="#000"/>
<text x="1582.7" y="323" textLength="33.2">0.94620</text>
<rect x="1578" y="352" width="2" height="1" fill="#000"/>
<text x="1582.7" y="356" textLength="33.2">0.93920</text>
<rect x="1578" y="385" width="2" height="1" fill="#000"/>
<text x="1582.7" y="389" textLength="33.2">0.93240</text>
<rect x="1578" y="418" width="2" height="1" fill="#000"/>
<text x="1582.7" y="422" textLength="33.2">0.92540</text>
<rect x="1578" y="451" width="2" height="1" fill="#000"/>
<text x="1582.7" y="455" textLength="33.2">0.91860</text>
<rect x="1578" y="484" width="2" height="1" fill="#000"/>
<text x="1582.7" y="488" textLength="33.2">0.91160</text>
<rect x="1578" y="517" width="2" height="1" fill="#000"/>
<text x="1582.7" y="521" textLength="33.2">0.90460</text>
<rect x="1578" y="550" width="2" height="1" fill="#000"/>
<text x="1582.7" y="554" textLength="33.2">0.89780</text>
<rect x="1579" y="259" width="40" height="11" fill="#ff0000"/><text x="1582.7" y="268" textLength="33.2" style="fill:#fff">0.95756</text>
<rect x="1579" y="323" width="40" height="11" fill="#ff0000"/><text x="1582.7" y="332" textLength="33.2" style="fill:#fff">0.94406</text>
<rect x="1579" y="389" width="40" height="11" fill="#ff0000"/><text x="1582.7" y="398" textLength="33.2" style="fill:#fff">0.93016</text>
<rect x="1579" y="452" width="40" height="11" fill="#00ff00"/><text x="1582.7" y="461" textLength="33.2" style="fill:#fff">0.91706</text>
<rect x="1579" y="532" width="40" height="11" fill="#0000ff"/><text x="1582.7" y="541" textLength="33.2" style="fill:#fff">0.90018</text>
<rect x="1579" y="471" width="40" height="11" fill="#000"/><text x="1582.7" y="480" textLength="33.2" style="fill:#fff">0.91330</text>
<path d="M2,585.5H1577" stroke="#c0c0c0" stroke-width="1" stroke-dasharray="3,3" fill="none"/>
<path d="M2,622.5H1577" stroke="#c0c0c0" stroke-width="1" stroke-dasharray="3,3" fill="none"/>
<path d="M18,597h1v2h-1zM20,600h1v2h-1zM26,603h1v2h-1zM27,605h1v2h-1zM28,607h1v2h-1zM47,609h1v2h-1zM58,603h1v2h-1zM59,601h1v2h-1zM60,599h1v2h-1zM90,593h1v4h-1zM91,597h1v4h-1zM92,601h1v4h-1zM93,605h1v4h-1zM94,609h1v2h-1zM95,611h1v2h-1zM96,613h1v2h-1zM99,613h1v2h-1zM107,609h1v2h-1zM130,613h1v2h-1zM132,616h1v2h-1zM143,617h1v2h-1zM154,618h1v2h-1zM155,616h1v2h-1zM156,614h1v2h-1zM178,613h1v2h-1zM180,616h1v2h-1zM211,617h1v2h-1zM214,618h1v2h-1zM215,616h1v2h-1zM216,614h1v2h-1zM223,612h1v2h-1zM250,619h1v2h-1zM251,617h1v2h-1zM252,615h1v2h-1zM286,606h1v2h-1zM287,604h1v2h-1zM288,602h1v2h-1zM289,600h1v2h-1zM294,600h1v3h-1zM295,603h1v3h-1zM296,606h1v3h-1zM297,609h1v2h-1zM307,612h1v2h-1zM311,607h1v2h-1zM315,602h1v2h-1zM369,591h1v2h-1zM370,593h1v2h-1zM371,595h1v3h-1zM372,598h1v2h-1zM390,604h1v3h-1zM391,607h1v4h-1zM392,611h1v3h-1zM393,614h1v2h-1zM402,621h1v2h-1zM404,624h1v2h-1zM419,634h1v2h-1zM430,637h1v2h-1zM432,634h1v2h-1zM434,631h1v2h-1zM435,629h1v2h-1zM436,627h1v2h-1zM437,624h1v3h-1zM438,620h1v4h-1zM439,615h1v5h-1zM440,611h1v4h-1zM441,609h1v2h-1zM450,607h1v2h-1zM451,609h1v2h-1zM454,608h1v4h-1zM455,605h1v3h-1zM456,601h1v4h-1zM457,599h1v2h-1zM463,592h1v2h-1zM475,590h1v2h-1zM485,597h1v2h-1zM486,599h1v2h-1zM487,601h1v2h-1zM488,603h1v2h-1zM489,605h1v2h-1zM491,608h1v2h-1zM499,609h1v2h-1zM527,599h1v2h-1zM550,605h1v2h-1zM552,608h1v2h-1zM606,599h1v2h-1zM607,601h1v3h-1zM608,604h1v2h-1zM609,606h1v2h-1zM610,608h1v2h-1zM611,610h1v2h-1zM612,612h1v2h-1zM622,606h1v2h-1zM623,604h1v2h-1zM624,602h1v2h-1zM625,600h1v2h-1zM634,599h1v2h-1zM636,602h1v2h-1zM647,603h1v2h-1zM674,603h1v2h-1zM675,605h1v2h-1zM676,607h1v2h-1zM680,605h1v2h-1zM702,605h1v2h-1zM704,608h1v2h-1zM730,615h1v2h-1zM731,613h1v2h-1zM732,611h1v2h-1zM739,611h1v2h-1zM742,615h1v2h-1zM743,617h1v2h-1zM744,619h1v2h-1zM754,622h1v4h-1zM755,618h1v4h-1zM756,614h1v4h-1zM757,611h1v3h-1zM866,613h1v3h-1zM867,611h1v2h-1zM868,608h1v3h-1zM874,609h1v2h-1zM876,612h1v2h-1zM886,613h1v2h-1zM888,616h1v2h-1zM891,620h1v2h-1zM926,632h1v2h-1zM927,630h1v2h-1zM928,628h1v2h-1zM929,626h1v2h-1zM930,624h1v2h-1zM931,621h1v3h-1zM932,619h1v2h-1zM938,621h1v2h-1zM939,623h1v2h-1zM940,625h1v2h-1zM942,625h1v2h-1zM943,623h1v2h-1zM944,621h1v2h-1zM947,617h1v2h-1zM963,613h1v2h-1zM986,618h1v3h-1zM987,615h1v3h-1zM988,612h1v3h-1zM994,611h1v2h-1zM996,608h1v2h-1zM1030,615h1v2h-1zM1031,613h1v2h-1zM1032,611h1v2h-1zM1033,609h1v2h-1zM1043,602h1v2h-1zM1062,603h1v2h-1zM1063,605h1v2h-1zM1064,607h1v2h-1zM1098,602h1v2h-1zM1099,600h1v2h-1zM1100,598h1v2h-1zM1122,587h1v2h-1zM1123,589h1v2h-1zM1124,591h1v2h-1zM1127,595h1v2h-1zM1146,600h1v2h-1zM1147,602h1v2h-1zM1148,604h1v2h-1zM1162,605h1v2h-1zM1163,607h1v3h-1zM1164,610h1v2h-1zM1174,611h1v2h-1zM1175,609h1v2h-1zM1176,607h1v2h-1zM1194,606h1v2h-1zM1195,608h1v2h-1zM1196,610h1v2h-1zM1207,614h1v2h-1zM1219,612h1v2h-1zM1227,608h1v2h-1zM1229,605h1v2h-1zM1230,603h1v2h-1zM1231,601h1v2h-1zM1232,599h1v2h-1zM1246,596h1v3h-1zM1247,599h1v2h-1zM1248,601h1v3h-1zM1117,585h2v1h-2zM1115,586h2v1h-2zM1119,586h3v1h-3zM1114,587h1v1h-1zM365,588h1v1h-1zM471,588h3v1h-3zM1112,588h2v1h-2zM351,589h7v1h-7zM363,589h2v1h-2zM366,589h1v1h-1zM467,589h4v1h-4zM474,589h1v1h-1zM1110,589h2v1h-2zM349,590h2v1h-2zM358,590h2v1h-2zM362,590h1v1h-1zM367,590h2v1h-2zM465,590h2v1h-2zM1109,590h1v1h-1zM88,591h1v1h-1zM348,591h1v1h-1zM360,591h2v1h-2zM464,591h1v1h-1zM1107,591h2v1h-2zM86,592h2v1h-2zM89,592h1v1h-1zM347,592h1v1h-1zM476,592h1v1h-1zM1106,592h1v1h-1zM75,593h4v1h-4zM83,593h3v1h-3zM346,593h1v1h-1zM477,593h2v1h-2zM1105,593h1v1h-1zM1125,593h1v1h-1zM71,594h4v1h-4zM79,594h4v1h-4zM345,594h1v1h-1zM462,594h1v1h-1zM479,594h3v1h-3zM1104,594h1v1h-1zM1126,594h1v1h-1zM65,595h6v1h-6zM327,595h11v1h-11zM343,595h2v1h-2zM461,595h1v1h-1zM482,595h1v1h-1zM1103,595h1v1h-1zM1243,595h3v1h-3zM15,596h3v1h-3zM63,596h2v1h-2zM324,596h3v1h-3zM338,596h2v1h-2zM342,596h1v1h-1zM460,596h1v1h-1zM483,596h2v1h-2zM595,596h3v1h-3zM1102,596h1v1h-1zM1242,596h1v1h-1zM12,597h3v1h-3zM62,597h1v1h-1zM322,597h2v1h-2zM340,597h2v1h-2zM459,597h1v1h-1zM516,597h3v1h-3zM523,597h3v1h-3zM587,597h8v1h-8zM598,597h2v1h-2zM603,597h2v1h-2zM1101,597h1v1h-1zM1128,597h1v1h-1zM1234,597h1v1h-1zM1239,597h3v1h-3zM10,598h2v1h-2zM61,598h1v1h-1zM292,598h1v1h-1zM320,598h2v1h-2zM458,598h1v1h-1zM514,598h2v1h-2zM519,598h4v1h-4zM526,598h1v1h-1zM584,598h3v1h-3zM600,598h3v1h-3zM605,598h1v1h-1zM628,598h6v1h-6zM1055,598h3v1h-3zM1129,598h1v1h-1zM1233,598h1v1h-1zM1235,598h4v1h-4zM9,599h1v1h-1zM19,599h1v1h-1zM290,599h2v1h-2zM293,599h1v1h-1zM318,599h2v1h-2zM513,599h1v1h-1zM582,599h2v1h-2zM626,599h2v1h-2zM1053,599h2v1h-2zM1058,599h1v1h-1zM1130,599h1v1h-1zM1141,599h5v1h-5zM8,600h1v1h-1zM317,600h1v1h-1zM373,600h1v1h-1zM512,600h1v1h-1zM580,600h2v1h-2zM657,600h2v1h-2zM1045,600h1v1h-1zM1052,600h1v1h-1zM1059,600h1v1h-1zM1131,600h2v1h-2zM1139,600h2v1h-2zM7,601h1v1h-1zM316,601h1v1h-1zM374,601h1v1h-1zM379,601h3v1h-3zM511,601h1v1h-1zM528,601h1v1h-1zM578,601h2v1h-2zM635,601h1v1h-1zM643,601h3v1h-3zM655,601h2v1h-2zM659,601h4v1h-4zM687,601h3v1h-3zM1044,601h1v1h-1zM1046,601h1v1h-1zM1051,601h1v1h-1zM1060,601h1v1h-1zM1133,601h2v1h-2zM1138,601h1v1h-1zM1,602h2v1h-2zM6,602h1v1h-1zM21,602h5v1h-5zM375,602h4v1h-4zM382,602h1v1h-1zM510,602h1v1h-1zM529,602h5v1h-5zM561,602h1v1h-1zM576,602h2v1h-2zM640,602h3v1h-3zM646,602h1v1h-1zM654,602h1v1h-1zM663,602h3v1h-3zM671,602h3v1h-3zM684,602h3v1h-3zM690,602h1v1h-1zM1047,602h2v1h-2zM1050,602h1v1h-1zM1061,602h1v1h-1zM1135,602h3v1h-3zM3,603h3v1h-3zM53,603h1v1h-1zM383,603h1v1h-1zM387,603h3v1h-3zM508,603h2v1h-2zM534,603h1v1h-1zM560,603h1v1h-1zM562,603h1v1h-1zM574,603h2v1h-2zM638,603h2v1h-2zM653,603h1v1h-1zM666,603h2v1h-2zM670,603h1v1h-1zM682,603h2v1h-2zM691,603h2v1h-2zM1049,603h1v1h-1zM1159,603h2v1h-2zM1252,603h2v1h-2zM52,604h1v1h-1zM54,604h2v1h-2zM314,604h1v1h-1zM384,604h1v1h-1zM386,604h1v1h-1zM506,604h2v1h-2zM535,604h1v1h-1zM548,604h2v1h-2zM559,604h1v1h-1zM563,604h2v1h-2zM567,604h7v1h-7zM637,604h1v1h-1zM651,604h2v1h-2zM668,604h2v1h-2zM681,604h1v1h-1zM693,604h1v1h-1zM701,604h1v1h-1zM1042,604h1v1h-1zM1097,604h1v1h-1zM1157,604h2v1h-2zM1161,604h1v1h-1zM1187,604h4v1h-4zM1249,604h3v1h-3zM51,605h1v1h-1zM56,605h2v1h-2zM313,605h1v1h-1zM385,605h1v1h-1zM504,605h2v1h-2zM536,605h1v1h-1zM546,605h2v1h-2zM558,605h1v1h-1zM565,605h2v1h-2zM648,605h1v1h-1zM650,605h1v1h-1zM694,605h1v1h-1zM700,605h1v1h-1zM1037,605h5v1h-5zM1089,605h1v1h-1zM1095,605h2v1h-2zM1155,605h2v1h-2zM1185,605h2v1h-2zM1191,605h3v1h-3zM50,606h1v1h-1zM277,606h2v1h-2zM312,606h1v1h-1zM448,606h2v1h-2zM502,606h2v1h-2zM537,606h2v1h-2zM543,606h3v1h-3zM557,606h1v1h-1zM649,606h1v1h-1zM695,606h1v1h-1zM699,606h1v1h-1zM1036,606h1v1h-1zM1069,606h5v1h-5zM1087,606h2v1h-2zM1090,606h2v1h-2zM1094,606h1v1h-1zM1149,606h2v1h-2zM1154,606h1v1h-1zM1177,606h2v1h-2zM1183,606h2v1h-2zM49,607h1v1h-1zM109,607h2v1h-2zM275,607h2v1h-2zM279,607h4v1h-4zM446,607h2v1h-2zM490,607h1v1h-1zM501,607h1v1h-1zM539,607h4v1h-4zM551,607h1v1h-1zM556,607h1v1h-1zM679,607h1v1h-1zM696,607h1v1h-1zM698,607h1v1h-1zM703,607h1v1h-1zM813,607h1v1h-1zM869,607h3v1h-3zM997,607h2v1h-2zM1035,607h1v1h-1zM1067,607h2v1h-2zM1074,607h1v1h-1zM1081,607h2v1h-2zM1086,607h1v1h-1zM1092,607h2v1h-2zM1151,607h3v1h-3zM1179,607h2v1h-2zM1182,607h1v1h-1zM1228,607h1v1h-1zM37,608h5v1h-5zM48,608h1v1h-1zM108,608h1v1h-1zM111,608h3v1h-3zM269,608h2v1h-2zM274,608h1v1h-1zM283,608h3v1h-3zM442,608h4v1h-4zM500,608h1v1h-1zM555,608h1v1h-1zM621,608h1v1h-1zM678,608h1v1h-1zM697,608h1v1h-1zM761,608h1v1h-1zM812,608h1v1h-1zM814,608h1v1h-1zM872,608h2v1h-2zM999,608h4v1h-4zM1034,608h1v1h-1zM1066,608h1v1h-1zM1075,608h1v1h-1zM1079,608h2v1h-2zM1083,608h3v1h-3zM1181,608h1v1h-1zM29,609h1v1h-1zM35,609h2v1h-2zM42,609h1v1h-1zM114,609h1v1h-1zM227,609h3v1h-3zM261,609h1v1h-1zM268,609h1v1h-1zM271,609h3v1h-3zM310,609h1v1h-1zM554,609h1v1h-1zM619,609h2v1h-2zM677,609h1v1h-1zM734,609h4v1h-4zM759,609h2v1h-2zM762,609h1v1h-1zM779,609h4v1h-4zM811,609h1v1h-1zM815,609h1v1h-1zM1003,609h3v1h-3zM1065,609h1v1h-1zM1076,609h1v1h-1zM1078,609h1v1h-1zM30,610h2v1h-2zM34,610h1v1h-1zM43,610h1v1h-1zM115,610h2v1h-2zM225,610h2v1h-2zM230,610h2v1h-2zM260,610h1v1h-1zM262,610h1v1h-1zM267,610h1v1h-1zM309,610h1v1h-1zM492,610h1v1h-1zM553,610h1v1h-1zM618,610h1v1h-1zM705,610h1v1h-1zM733,610h1v1h-1zM738,610h1v1h-1zM758,610h1v1h-1zM763,610h1v1h-1zM772,610h7v1h-7zM783,610h3v1h-3zM800,610h3v1h-3zM810,610h1v1h-1zM816,610h1v1h-1zM995,610h1v1h-1zM1006,610h2v1h-2zM1077,610h1v1h-1zM1221,610h2v1h-2zM1226,610h1v1h-1zM32,611h2v1h-2zM44,611h1v1h-1zM46,611h1v1h-1zM101,611h2v1h-2zM106,611h1v1h-1zM117,611h1v1h-1zM160,611h3v1h-3zM224,611h1v1h-1zM232,611h2v1h-2zM259,611h1v1h-1zM263,611h2v1h-2zM266,611h1v1h-1zM298,611h1v1h-1zM308,611h1v1h-1zM452,611h1v1h-1zM493,611h2v1h-2zM498,611h1v1h-1zM617,611h1v1h-1zM706,611h1v1h-1zM764,611h1v1h-1zM770,611h2v1h-2zM786,611h1v1h-1zM798,611h2v1h-2zM803,611h7v1h-7zM817,611h2v1h-2zM875,611h1v1h-1zM960,611h2v1h-2zM989,611h2v1h-2zM1008,611h7v1h-7zM1220,611h1v1h-1zM1223,611h3v1h-3zM45,612h1v1h-1zM100,612h1v1h-1zM103,612h3v1h-3zM118,612h1v1h-1zM127,612h3v1h-3zM158,612h2v1h-2zM163,612h3v1h-3zM177,612h1v1h-1zM234,612h2v1h-2zM258,612h1v1h-1zM265,612h1v1h-1zM299,612h1v1h-1zM453,612h1v1h-1zM495,612h3v1h-3zM615,612h2v1h-2zM707,612h2v1h-2zM711,612h4v1h-4zM719,612h4v1h-4zM765,612h5v1h-5zM787,612h2v1h-2zM797,612h1v1h-1zM819,612h12v1h-12zM884,612h2v1h-2zM958,612h2v1h-2zM962,612h1v1h-1zM991,612h2v1h-2zM1015,612h3v1h-3zM1165,612h1v1h-1zM1197,612h1v1h-1zM1209,612h1v1h-1zM119,613h2v1h-2zM123,613h4v1h-4zM157,613h1v1h-1zM166,613h2v1h-2zM175,613h2v1h-2zM217,613h1v1h-1zM236,613h2v1h-2zM254,613h4v1h-4zM300,613h1v1h-1zM614,613h1v1h-1zM709,613h2v1h-2zM715,613h4v1h-4zM723,613h3v1h-3zM740,613h1v1h-1zM789,613h1v1h-1zM796,613h1v1h-1zM831,613h3v1h-3zM857,613h2v1h-2zM882,613h2v1h-2zM957,613h1v1h-1zM993,613h1v1h-1zM1018,613h1v1h-1zM1166,613h8v1h-8zM1198,613h2v1h-2zM1208,613h1v1h-1zM1210,613h2v1h-2zM121,614h2v1h-2zM137,614h2v1h-2zM168,614h3v1h-3zM174,614h1v1h-1zM218,614h2v1h-2zM222,614h1v1h-1zM238,614h1v1h-1zM253,614h1v1h-1zM301,614h2v1h-2zM306,614h1v1h-1zM613,614h1v1h-1zM726,614h1v1h-1zM741,614h1v1h-1zM790,614h1v1h-1zM795,614h1v1h-1zM834,614h1v1h-1zM856,614h1v1h-1zM859,614h3v1h-3zM877,614h5v1h-5zM955,614h2v1h-2zM1019,614h1v1h-1zM1024,614h2v1h-2zM1200,614h2v1h-2zM1212,614h3v1h-3zM1218,614h1v1h-1zM97,615h2v1h-2zM131,615h1v1h-1zM136,615h1v1h-1zM139,615h3v1h-3zM171,615h3v1h-3zM179,615h1v1h-1zM209,615h1v1h-1zM220,615h2v1h-2zM239,615h2v1h-2zM303,615h3v1h-3zM727,615h1v1h-1zM791,615h2v1h-2zM794,615h1v1h-1zM835,615h1v1h-1zM855,615h1v1h-1zM862,615h1v1h-1zM887,615h1v1h-1zM949,615h2v1h-2zM954,615h1v1h-1zM964,615h1v1h-1zM1020,615h1v1h-1zM1022,615h2v1h-2zM1026,615h1v1h-1zM1202,615h1v1h-1zM1215,615h3v1h-3zM135,616h1v1h-1zM142,616h1v1h-1zM149,616h1v1h-1zM208,616h1v1h-1zM210,616h1v1h-1zM241,616h1v1h-1zM394,616h2v1h-2zM728,616h1v1h-1zM793,616h1v1h-1zM836,616h1v1h-1zM854,616h1v1h-1zM863,616h3v1h-3zM948,616h1v1h-1zM951,616h3v1h-3zM965,616h2v1h-2zM1021,616h1v1h-1zM1027,616h1v1h-1zM1203,616h2v1h-2zM1206,616h1v1h-1zM134,617h1v1h-1zM148,617h1v1h-1zM150,617h1v1h-1zM207,617h1v1h-1zM242,617h1v1h-1zM396,617h2v1h-2zM729,617h1v1h-1zM837,617h2v1h-2zM849,617h5v1h-5zM967,617h4v1h-4zM975,617h3v1h-3zM1028,617h2v1h-2zM1205,617h1v1h-1zM133,618h1v1h-1zM147,618h1v1h-1zM151,618h1v1h-1zM181,618h1v1h-1zM206,618h1v1h-1zM243,618h1v1h-1zM398,618h1v1h-1zM839,618h3v1h-3zM848,618h1v1h-1zM889,618h1v1h-1zM933,618h2v1h-2zM971,618h4v1h-4zM978,618h1v1h-1zM144,619h1v1h-1zM146,619h1v1h-1zM152,619h1v1h-1zM182,619h1v1h-1zM205,619h1v1h-1zM212,619h1v1h-1zM244,619h1v1h-1zM399,619h2v1h-2zM842,619h1v1h-1zM847,619h1v1h-1zM890,619h1v1h-1zM935,619h2v1h-2zM946,619h1v1h-1zM979,619h2v1h-2zM145,620h1v1h-1zM153,620h1v1h-1zM183,620h2v1h-2zM203,620h2v1h-2zM213,620h1v1h-1zM245,620h2v1h-2zM401,620h1v1h-1zM843,620h2v1h-2zM846,620h1v1h-1zM937,620h1v1h-1zM945,620h1v1h-1zM981,620h1v1h-1zM185,621h1v1h-1zM202,621h1v1h-1zM247,621h3v1h-3zM745,621h1v1h-1zM845,621h1v1h-1zM982,621h2v1h-2zM985,621h1v1h-1zM186,622h1v1h-1zM201,622h1v1h-1zM746,622h2v1h-2zM892,622h1v1h-1zM984,622h1v1h-1zM187,623h1v1h-1zM200,623h1v1h-1zM403,623h1v1h-1zM748,623h2v1h-2zM893,623h1v1h-1zM188,624h1v1h-1zM199,624h1v1h-1zM750,624h1v1h-1zM894,624h1v1h-1zM189,625h6v1h-6zM198,625h1v1h-1zM751,625h1v1h-1zM895,625h2v1h-2zM195,626h3v1h-3zM405,626h1v1h-1zM752,626h2v1h-2zM897,626h2v1h-2zM406,627h1v1h-1zM899,627h4v1h-4zM941,627h1v1h-1zM407,628h2v1h-2zM903,628h4v1h-4zM409,629h5v1h-5zM907,629h3v1h-3zM414,630h1v1h-1zM910,630h2v1h-2zM415,631h2v1h-2zM912,631h3v1h-3zM417,632h1v1h-1zM915,632h4v1h-4zM418,633h1v1h-1zM433,633h1v1h-1zM919,633h4v1h-4zM923,634h3v1h-3zM420,636h1v1h-1zM431,636h1v1h-1zM421,637h5v1h-5zM426,638h2v1h-2zM428,639h2v1h-2z" fill="#1e90ff"/>
<rect x="1578" y="557" width="2" height="1" fill="#000"/><rect x="1578" y="650" width="2" height="1" fill="#000"/>
<text x="1581" y="566">100</text><text x="1581" y="589">70</text><text x="1581" y="626">30</text><text x="1581" y="648">0</text>
<g clip-path="url(#cd)"><path d="M1,686h1v2h-1zM5,686h1v1h-1zM9,685h1v1h-1zM13,683h1v3h-1zM17,681h1v5h-1zM21,681h1v5h-1zM25,682h1v4h-1zM29,684h1v2h-1zM33,686h1v1h-1zM37,686h1v1h-1zM41,686h1v2h-1zM45,686h1v4h-1zM49,686h1v4h-1zM53,686h1v3h-1zM57,686h1v3h-1zM61,686h1v1h-1zM65,684h1v2h-1zM69,682h1v4h-1zM73,680h1v6h-1zM77,678h1v8h-1zM81,677h1v9h-1zM85,676h1v10h-1zM89,675h1v11h-1zM93,677h1v9h-1zM97,682h1v4h-1zM101,685h1v1h-1zM105,686h1v2h-1zM109,686h1v2h-1zM113,686h1v3h-1zM117,686h1v5h-1zM121,686h1v7h-1zM125,686h1v8h-1zM129,686h1v9h-1zM133,686h1v11h-1zM137,686h1v12h-1zM141,686h1v13h-1zM145,686h1v15h-1zM149,686h1v16h-1zM153,686h1v18h-1zM157,686h1v18h-1zM161,686h1v17h-1zM165,686h1v16h-1zM169,686h1v16h-1zM173,686h1v17h-1zM177,686h1v16h-1zM181,686h1v18h-1zM185,686h1v20h-1zM189,686h1v23h-1zM193,686h1v26h-1zM197,686h1v28h-1zM201,686h1v28h-1zM205,686h1v28h-1zM209,686h1v26h-1zM213,686h1v27h-1zM217,686h1v25h-1zM221,686h1v24h-1zM225,686h1v22h-1zM229,686h1v20h-1zM233,686h1v19h-1zM237,686h1v18h-1zM241,686h1v18h-1zM245,686h1v20h-1zM249,686h1v21h-1zM253,686h1v21h-1zM257,686h1v20h-1zM261,686h1v18h-1zM265,686h1v17h-1zM269,686h1v15h-1zM273,686h1v14h-1zM277,686h1v13h-1zM281,686h1v11h-1zM285,686h1v10h-1zM289,686h1v8h-1zM293,686h1v5h-1zM297,686h1v6h-1zM301,686h1v8h-1zM305,686h1v10h-1zM309,686h1v10h-1zM313,686h1v9h-1zM317,686h1v6h-1zM321,686h1v3h-1zM325,686h1v1h-1zM329,683h1v3h-1zM333,681h1v5h-1zM337,680h1v6h-1zM341,679h1v7h-1zM345,678h1v8h-1zM349,675h1v11h-1zM353,673h1v13h-1zM357,672h1v14h-1zM361,671h1v15h-1zM365,670h1v16h-1zM369,670h1v16h-1zM373,671h1v15h-1zM377,673h1v13h-1zM381,675h1v11h-1zM385,676h1v10h-1zM389,678h1v8h-1zM393,682h1v4h-1zM397,686h1v1h-1zM401,686h1v4h-1zM405,686h1v10h-1zM409,686h1v17h-1zM413,686h1v21h-1zM417,686h1v27h-1zM421,686h1v37h-1zM425,686h1v44h-1zM429,686h1v53h-1zM433,686h1v57h-1zM437,686h1v58h-1zM441,686h1v51h-1zM445,686h1v45h-1zM449,686h1v39h-1zM453,686h1v38h-1zM457,686h1v29h-1zM461,686h1v17h-1zM465,686h1v3h-1zM469,678h1v8h-1zM473,667h1v19h-1zM477,662h1v24h-1zM481,659h1v27h-1zM485,658h1v28h-1zM489,664h1v22h-1zM493,673h1v13h-1zM497,680h1v6h-1zM501,684h1v2h-1zM505,685h1v1h-1zM509,684h1v2h-1zM513,681h1v5h-1zM517,677h1v9h-1zM521,674h1v12h-1zM525,672h1v14h-1zM529,673h1v13h-1zM533,674h1v12h-1zM537,677h1v9h-1zM541,680h1v6h-1zM545,682h1v4h-1zM549,682h1v4h-1zM553,686h1v1h-1zM557,686h1v1h-1zM561,686h1v1h-1zM565,686h1v1h-1zM569,686h1v1h-1zM573,686h1v1h-1zM577,685h1v1h-1zM581,684h1v2h-1zM585,682h1v4h-1zM589,679h1v7h-1zM593,677h1v9h-1zM597,676h1v10h-1zM601,675h1v11h-1zM605,675h1v11h-1zM609,678h1v8h-1zM613,683h1v3h-1zM617,686h1v1h-1zM621,686h1v2h-1zM625,686h1v1h-1zM629,684h1v2h-1zM633,682h1v4h-1zM637,682h1v4h-1zM641,682h1v4h-1zM645,682h1v4h-1zM649,683h1v3h-1zM653,683h1v3h-1zM657,682h1v4h-1zM661,682h1v4h-1zM665,682h1v4h-1zM669,682h1v4h-1zM673,682h1v4h-1zM677,685h1v1h-1zM681,685h1v1h-1zM685,684h1v2h-1zM689,683h1v3h-1zM693,684h1v2h-1zM697,685h1v1h-1zM701,686h1v1h-1zM705,686h1v2h-1zM709,686h1v5h-1zM713,686h1v8h-1zM717,686h1v10h-1zM721,686h1v11h-1zM725,686h1v12h-1zM729,686h1v14h-1zM733,686h1v14h-1zM737,686h1v14h-1zM741,686h1v15h-1zM745,686h1v20h-1zM749,686h1v25h-1zM753,686h1v32h-1zM757,686h1v31h-1zM761,686h1v28h-1zM765,686h1v28h-1zM769,686h1v28h-1zM773,686h1v27h-1zM777,686h1v25h-1zM781,686h1v23h-1zM785,686h1v22h-1zM789,686h1v22h-1zM793,686h1v24h-1zM797,686h1v24h-1zM801,686h1v22h-1zM805,686h1v22h-1zM809,686h1v21h-1zM813,686h1v19h-1zM817,686h1v19h-1zM821,686h1v19h-1zM825,686h1v18h-1zM829,686h1v18h-1zM833,686h1v18h-1zM837,686h1v19h-1zM841,686h1v20h-1zM845,686h1v22h-1zM849,686h1v22h-1zM853,686h1v22h-1zM857,686h1v21h-1zM861,686h1v20h-1zM865,686h1v21h-1zM869,686h1v18h-1zM873,686h1v16h-1zM877,686h1v17h-1zM881,686h1v17h-1zM885,686h1v17h-1zM889,686h1v19h-1zM893,686h1v22h-1zM897,686h1v26h-1zM901,686h1v30h-1zM905,686h1v33h-1zM909,686h1v36h-1zM913,686h1v39h-1zM917,686h1v42h-1zM921,686h1v45h-1zM925,686h1v47h-1zM929,686h1v47h-1zM933,686h1v44h-1zM937,686h1v43h-1zM941,686h1v46h-1zM945,686h1v46h-1zM949,686h1v43h-1zM953,686h1v42h-1zM957,686h1v38h-1zM961,686h1v35h-1zM965,686h1v35h-1zM969,686h1v34h-1zM973,686h1v34h-1zM977,686h1v33h-1zM981,686h1v34h-1zM985,686h1v35h-1zM989,686h1v32h-1zM993,686h1v31h-1zM997,686h1v27h-1zM1001,686h1v24h-1zM1005,686h1v22h-1zM1009,686h1v22h-1zM1013,686h1v21h-1zM1017,686h1v20h-1zM1021,686h1v21h-1zM1025,686h1v22h-1zM1029,686h1v23h-1zM1033,686h1v21h-1zM1037,686h1v18h-1zM1041,686h1v16h-1zM1045,686h1v12h-1zM1049,686h1v9h-1zM1053,686h1v6h-1zM1057,686h1v3h-1zM1061,686h1v2h-1zM1065,686h1v3h-1zM1069,686h1v4h-1zM1073,686h1v4h-1zM1077,686h1v5h-1zM1081,686h1v6h-1zM1085,686h1v6h-1zM1089,686h1v6h-1zM1093,686h1v5h-1zM1097,686h1v5h-1zM1101,686h1v1h-1zM1105,683h1v3h-1zM1109,679h1v7h-1zM1113,674h1v12h-1zM1117,669h1v17h-1zM1121,665h1v21h-1zM1125,665h1v21h-1zM1129,666h1v20h-1zM1133,668h1v18h-1zM1137,670h1v16h-1zM1141,671h1v15h-1zM1145,672h1v14h-1zM1149,675h1v11h-1zM1153,678h1v8h-1zM1157,679h1v7h-1zM1161,680h1v6h-1zM1165,684h1v2h-1zM1169,686h1v1h-1zM1173,686h1v4h-1zM1177,686h1v4h-1zM1181,686h1v4h-1zM1185,686h1v4h-1zM1189,686h1v3h-1zM1193,686h1v3h-1zM1197,686h1v5h-1zM1201,686h1v8h-1zM1205,686h1v11h-1zM1209,686h1v12h-1zM1213,686h1v13h-1zM1217,686h1v15h-1zM1221,686h1v14h-1zM1225,686h1v14h-1zM1229,686h1v13h-1zM1233,686h1v8h-1zM1237,686h1v5h-1zM1241,686h1v2h-1zM1245,684h1v2h-1zM1249,685h1v1h-1zM1253,685h1v1h-1z" fill="#c0c0c0"/>
<path d="M428,708h1v2h-1zM432,714h1v2h-1zM436,720h1v2h-1zM468,718h1v2h-1zM471,712h1v2h-1zM473,707h1v2h-1zM476,701h1v2h-1zM479,695h1v2h-1zM482,689h1v2h-1zM486,682h1v2h-1zM1143,669h2v1h-2zM1148,669h3v1h-3zM500,670h3v1h-3zM1142,670h1v1h-1zM1154,670h1v1h-1zM495,671h2v1h-2zM506,671h2v1h-2zM1136,671h3v1h-3zM1155,671h2v1h-2zM379,672h3v1h-3zM385,672h2v1h-2zM494,672h1v1h-1zM508,672h1v1h-1zM373,673h3v1h-3zM387,673h1v1h-1zM1132,673h1v1h-1zM1160,673h2v1h-2zM367,674h3v1h-3zM391,674h3v1h-3zM512,674h2v1h-2zM1130,674h2v1h-2zM1162,674h1v1h-1zM514,675h1v1h-1zM362,676h2v1h-2zM397,676h1v1h-1zM490,676h1v1h-1zM543,676h2v1h-2zM1166,676h2v1h-2zM361,677h1v1h-1zM398,677h2v1h-2zM489,677h1v1h-1zM518,677h2v1h-2zM536,677h3v1h-3zM542,677h1v1h-1zM548,677h3v1h-3zM1126,677h1v1h-1zM1168,677h1v1h-1zM488,678h1v1h-1zM520,678h1v1h-1zM531,678h2v1h-2zM554,678h1v1h-1zM1125,678h1v1h-1zM97,679h3v1h-3zM356,679h2v1h-2zM524,679h3v1h-3zM530,679h1v1h-1zM555,679h2v1h-2zM608,679h3v1h-3zM614,679h3v1h-3zM1124,679h1v1h-1zM1172,679h2v1h-2zM91,680h3v1h-3zM103,680h3v1h-3zM355,680h1v1h-1zM403,680h2v1h-2zM603,680h2v1h-2zM620,680h3v1h-3zM1174,680h1v1h-1zM87,681h1v1h-1zM109,681h2v1h-2zM405,681h1v1h-1zM560,681h3v1h-3zM602,681h1v1h-1zM626,681h3v1h-3zM85,682h2v1h-2zM111,682h1v1h-1zM350,682h2v1h-2zM596,682h3v1h-3zM632,682h3v1h-3zM662,682h3v1h-3zM668,682h3v1h-3zM674,682h1v1h-1zM1119,682h2v1h-2zM1178,682h1v1h-1zM115,683h3v1h-3zM349,683h1v1h-1zM566,683h2v1h-2zM638,683h1v1h-1zM656,683h3v1h-3zM675,683h2v1h-2zM680,683h3v1h-3zM686,683h3v1h-3zM692,683h3v1h-3zM1118,683h1v1h-1zM1179,683h2v1h-2zM27,684h1v1h-1zM31,684h3v1h-3zM37,684h3v1h-3zM79,684h3v1h-3zM409,684h1v1h-1zM485,684h1v1h-1zM568,684h1v1h-1zM591,684h2v1h-2zM639,684h2v1h-2zM644,684h3v1h-3zM650,684h3v1h-3zM698,684h3v1h-3zM19,685h3v1h-3zM25,685h2v1h-2zM43,685h3v1h-3zM49,685h2v1h-2zM75,685h1v1h-1zM121,685h1v1h-1zM344,685h2v1h-2zM410,685h1v1h-1zM572,685h3v1h-3zM578,685h1v1h-1zM584,685h3v1h-3zM590,685h1v1h-1zM704,685h3v1h-3zM1184,685h2v1h-2zM15,686h1v1h-1zM51,686h1v1h-1zM73,686h2v1h-2zM122,686h2v1h-2zM343,686h1v1h-1zM411,686h1v1h-1zM579,686h2v1h-2zM710,686h1v1h-1zM1114,686h1v1h-1zM1186,686h1v1h-1zM7,687h3v1h-3zM13,687h2v1h-2zM55,687h3v1h-3zM67,687h3v1h-3zM711,687h2v1h-2zM1112,687h2v1h-2zM1190,687h1v1h-1zM1,688h3v1h-3zM61,688h3v1h-3zM127,688h1v1h-1zM338,688h2v1h-2zM483,688h1v1h-1zM716,688h3v1h-3zM1191,688h2v1h-2zM128,689h2v1h-2zM337,689h1v1h-1zM1107,689h2v1h-2zM1196,689h3v1h-3zM332,690h2v1h-2zM415,690h1v1h-1zM722,690h2v1h-2zM1083,690h2v1h-2zM1088,690h3v1h-3zM1094,690h1v1h-1zM1106,690h1v1h-1zM1202,690h1v1h-1zM133,691h2v1h-2zM331,691h1v1h-1zM416,691h1v1h-1zM724,691h1v1h-1zM1076,691h3v1h-3zM1082,691h1v1h-1zM1095,691h2v1h-2zM1100,691h3v1h-3zM1203,691h2v1h-2zM135,692h1v1h-1zM325,692h3v1h-3zM417,692h1v1h-1zM1072,692h1v1h-1zM1208,692h3v1h-3zM1251,692h2v1h-2zM139,693h1v1h-1zM319,693h3v1h-3zM728,693h3v1h-3zM1070,693h2v1h-2zM1214,693h1v1h-1zM1250,693h1v1h-1zM140,694h2v1h-2zM315,694h1v1h-1zM480,694h1v1h-1zM1215,694h2v1h-2zM1246,694h1v1h-1zM145,695h1v1h-1zM303,695h1v1h-1zM307,695h3v1h-3zM313,695h2v1h-2zM734,695h2v1h-2zM1066,695h1v1h-1zM1220,695h3v1h-3zM1244,695h2v1h-2zM146,696h2v1h-2zM301,696h2v1h-2zM420,696h1v1h-1zM736,696h1v1h-1zM1064,696h2v1h-2zM295,697h3v1h-3zM421,697h1v1h-1zM740,697h2v1h-2zM1226,697h2v1h-2zM1239,697h2v1h-2zM151,698h3v1h-3zM422,698h1v1h-1zM742,698h1v1h-1zM1060,698h1v1h-1zM1228,698h1v1h-1zM1232,698h3v1h-3zM1238,698h1v1h-1zM157,699h2v1h-2zM290,699h2v1h-2zM1058,699h2v1h-2zM159,700h1v1h-1zM289,700h1v1h-1zM477,700h1v1h-1zM746,700h2v1h-2zM163,701h3v1h-3zM284,701h2v1h-2zM748,701h1v1h-1zM1054,701h1v1h-1zM169,702h3v1h-3zM283,702h1v1h-1zM424,702h1v1h-1zM1052,702h2v1h-2zM175,703h3v1h-3zM181,703h3v1h-3zM279,703h1v1h-1zM425,703h1v1h-1zM752,703h2v1h-2zM187,704h3v1h-3zM271,704h3v1h-3zM277,704h2v1h-2zM426,704h1v1h-1zM754,704h1v1h-1zM890,704h3v1h-3zM1047,704h2v1h-2zM193,705h2v1h-2zM259,705h3v1h-3zM265,705h3v1h-3zM831,705h2v1h-2zM836,705h3v1h-3zM842,705h3v1h-3zM848,705h3v1h-3zM879,705h2v1h-2zM884,705h3v1h-3zM896,705h3v1h-3zM1046,705h1v1h-1zM195,706h1v1h-1zM253,706h3v1h-3zM474,706h1v1h-1zM758,706h1v1h-1zM830,706h1v1h-1zM854,706h3v1h-3zM860,706h3v1h-3zM872,706h3v1h-3zM878,706h1v1h-1zM1040,706h3v1h-3zM199,707h3v1h-3zM243,707h1v1h-1zM247,707h3v1h-3zM759,707h2v1h-2zM819,707h2v1h-2zM824,707h3v1h-3zM866,707h3v1h-3zM902,707h2v1h-2zM1035,707h2v1h-2zM205,708h1v1h-1zM241,708h2v1h-2zM812,708h3v1h-3zM818,708h1v1h-1zM904,708h1v1h-1zM1034,708h1v1h-1zM206,709h2v1h-2zM235,709h3v1h-3zM764,709h2v1h-2zM806,709h3v1h-3zM1024,709h1v1h-1zM1028,709h3v1h-3zM231,710h1v1h-1zM429,710h1v1h-1zM766,710h1v1h-1zM800,710h3v1h-3zM908,710h2v1h-2zM1022,710h2v1h-2zM211,711h3v1h-3zM229,711h2v1h-2zM770,711h1v1h-1zM794,711h3v1h-3zM910,711h1v1h-1zM217,712h3v1h-3zM223,712h3v1h-3zM771,712h2v1h-2zM788,712h3v1h-3zM1016,712h3v1h-3zM776,713h3v1h-3zM782,713h3v1h-3zM914,713h1v1h-1zM470,714h1v1h-1zM915,714h2v1h-2zM1011,714h2v1h-2zM1010,715h1v1h-1zM433,716h1v1h-1zM1004,716h3v1h-3zM920,717h1v1h-1zM921,718h1v1h-1zM999,718h2v1h-2zM922,719h1v1h-1zM998,719h1v1h-1zM467,720h1v1h-1zM992,720h3v1h-3zM987,721h2v1h-2zM437,722h1v1h-1zM986,722h1v1h-1zM926,723h2v1h-2zM980,723h3v1h-3zM465,724h1v1h-1zM928,724h1v1h-1zM975,724h2v1h-2zM464,725h1v1h-1zM974,725h1v1h-1zM440,726h1v1h-1zM463,726h1v1h-1zM932,726h2v1h-2zM968,726h3v1h-3zM441,727h1v1h-1zM934,727h1v1h-1zM964,727h1v1h-1zM442,728h1v1h-1zM938,728h1v1h-1zM962,728h2v1h-2zM939,729h2v1h-2zM459,730h2v1h-2zM944,730h3v1h-3zM956,730h3v1h-3zM446,731h2v1h-2zM458,731h1v1h-1zM950,731h3v1h-3zM448,732h1v1h-1zM452,733h3v1h-3z" fill="#ff0000"/></g>
<rect x="1578" y="654" width="2" height="1" fill="#000"/><rect x="1578" y="686" width="2" height="1" fill="#000"/><rect x="1578" y="748" width="2" height="1" fill="#000"/>
<text x="1581" y="664">0.005818</text><text x="1581" y="690">0.00</text><text x="1581" y="746.5">-0.011514</text>
<path d="M4,33h7v1h-1v1h-1v1h-1v1h-1v-1h-1v-1h-1v-1h-1z" fill="#000"/>
<text x="15.8" y="38.2" textLength="65">USDCHF,Daily</text><text x="86.7" y="38.2" textLength="141">0.91231 0.91333 0.90886 0.91330</text>
<text x="4.6" y="567.8" textLength="68">RSI(14) 50.7388</text>
<text x="4.6" y="665.8" textLength="151.5">MACD(12,26,9) 0.000209 -0.001086</text>
<rect x="1" y="750" width="1" height="3" fill="#000"/>
<text x="-0.6000000000000001" y="762" textLength="49.3">5 Nov 2019</text>
<rect x="65" y="750" width="1" height="3" fill="#000"/>
<text x="63.4" y="762" textLength="54.3">23 Nov 2019</text>
<rect x="129" y="750" width="1" height="3" fill="#000"/>
<text x="127.4" y="762" textLength="51.3">12 Dec 2019</text>
<rect x="193" y="750" width="1" height="3" fill="#000"/>
<text x="191.4" y="762" textLength="51.3">31 Dec 2019</text>
<rect x="257" y="750" width="1" height="3" fill="#000"/>
<text x="255.4" y="762" textLength="49.3">18 Jan 2020</text>
<rect x="321" y="750" width="1" height="3" fill="#000"/>
<text x="319.4" y="762" textLength="46.3">6 Feb 2020</text>
<rect x="385" y="750" width="1" height="3" fill="#000"/>
<text x="383.4" y="762" textLength="51.3">25 Feb 2020</text>
<rect x="449" y="750" width="1" height="3" fill="#000"/>
<text x="447.4" y="762" textLength="51.3">14 Mar 2020</text>
<rect x="513" y="750" width="1" height="3" fill="#000"/>
<text x="511.4" y="762" textLength="45.3">2 Apr 2020</text>
<rect x="577" y="750" width="1" height="3" fill="#000"/>
<text x="575.4" y="762" textLength="50.3">21 Apr 2020</text>
<rect x="641" y="750" width="1" height="3" fill="#000"/>
<text x="639.4" y="762" textLength="49.3">9 May 2020</text>
<rect x="705" y="750" width="1" height="3" fill="#000"/>
<text x="703.4" y="762" textLength="54.3">28 May 2020</text>
<rect x="769" y="750" width="1" height="3" fill="#000"/>
<text x="767.4" y="762" textLength="49.3">16 Jun 2020</text>
<rect x="833" y="750" width="1" height="3" fill="#000"/>
<text x="831.4" y="762" textLength="41.3">4 Jul 2020</text>
<rect x="897" y="750" width="1" height="3" fill="#000"/>
<text x="895.4" y="762" textLength="46.3">23 Jul 2020</text>
<rect x="961" y="750" width="1" height="3" fill="#000"/>
<text x="959.4" y="762" textLength="52.3">11 Aug 2020</text>
<rect x="1025" y="750" width="1" height="3" fill="#000"/>
<text x="1023.4" y="762" textLength="52.3">29 Aug 2020</text>
<rect x="1089" y="750" width="1" height="3" fill="#000"/>
<text x="1087.4" y="762" textLength="51.3">17 Sep 2020</text>
<rect x="1153" y="750" width="1" height="3" fill="#000"/>
<text x="1151.4" y="762" textLength="45.3">6 Oct 2020</text>
<rect x="1217" y="750" width="1" height="3" fill="#000"/>
<text x="1215.4" y="762" textLength="50.3">24 Oct 2020</text>
</svg>
<div style="position:absolute;left:0;top:770px;width:1619px;height:1px;background:#e2e2e2"></div>
<div style="position:absolute;left:0;top:772px;width:1619px;height:1px;background:#000"></div>
<div id="tabs">
<div style="position:absolute;left:0;top:0;width:1619px;height:1px;background:#fbfbfb"></div><div style="position:absolute;left:0;top:18px;width:1619px;height:2px;background:#fafafa"></div>
<div style="position:absolute;left:106px;top:-1px;width:100px;height:19px;background:#fff;border:1px solid #000;border-top:none;box-sizing:border-box;box-shadow:1px 1px 0 #9a9a9a"></div>
<div class="t" style="left:14px">EURUSD,Daily</div>
<div class="t" style="left:116px;color:#000">USDCHF,Daily</div>
<div class="t" style="left:217px">AUDUSD,Daily</div>
<div class="t" style="left:321px">USDCAD,Daily</div>
<div class="t" style="left:424px">USDCNH,Daily</div>
<div class="t" style="left:530px">EURUSD,Daily</div>
<div class="t" style="left:633.5px">GBPUSD,H4</div>
<div class="t" style="left:725px">XAUUSD,H1</div>
<div class="t" style="left:817.5px">HK50,H1</div>
<div class="t" style="left:889.5px">UK100,H1</div>
<div class="t" style="left:969.5px">UK100,H1</div>
<div class="t" style="left:1049px">GER30,H1</div>
<div class="t" style="left:1128px">FRA40,H1</div>
<div class="t" style="left:1204.5px">USOil,H4</div>
<div class="t" style="left:1276px">USDJPY,H1</div>
<div class="t" style="left:1360px">DJ30,Daily</div>
<div class="t" style="left:1440px">CHINA300,H1</div>
<div class="t" style="left:1540px">USOil,H1</div>
<div class="s" style="left:310px"></div>
<div class="s" style="left:414px"></div>
<div class="s" style="left:519px"></div>
<div class="s" style="left:622px"></div>
<div class="s" style="left:714px"></div>
<div class="s" style="left:806px"></div>
<div class="s" style="left:879px"></div>
<div class="s" style="left:958px"></div>
<div class="s" style="left:1038px"></div>
<div class="s" style="left:1118px"></div>
<div class="s" style="left:1194px"></div>
<div class="s" style="left:1266px"></div>
<div class="s" style="left:1350px"></div>
<div class="s" style="left:1430px"></div>
<div class="s" style="left:1531px"></div>
<div style="position:absolute;left:1586px;top:1px;width:33px;height:17px;background:#f0f0f0"></div>
<svg width="36" height="19" style="position:absolute;left:1583px;top:0"><path d="M9.8,8l3.1,-3v6z" fill="#a0a0a0"/><path d="M32.1,8l-3.4,-3v6z" fill="#000"/></svg>
</div>
</body></html>
